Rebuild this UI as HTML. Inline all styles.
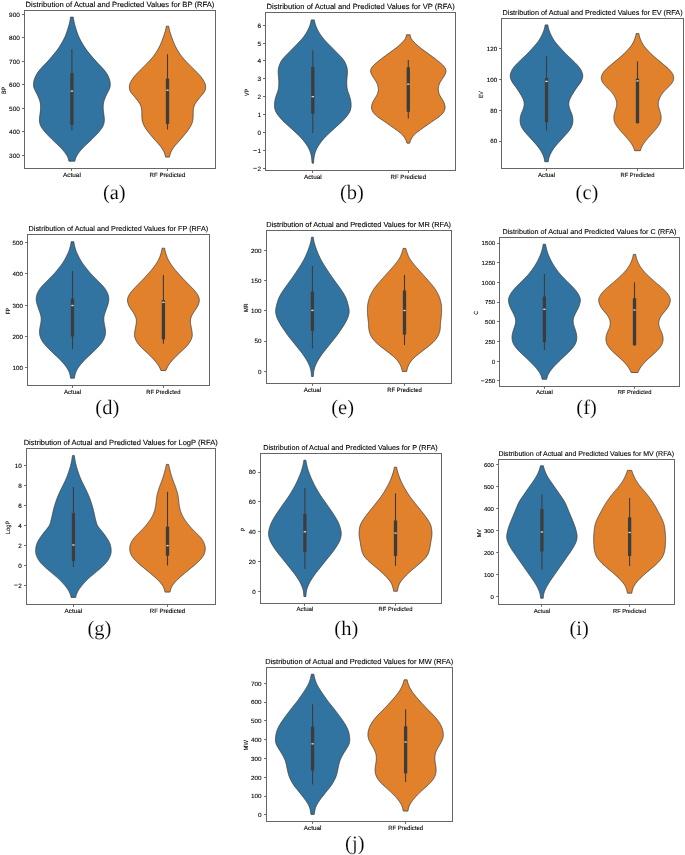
<!DOCTYPE html><html><head><meta charset="utf-8"><style>html,body{margin:0;padding:0;background:#fff;}svg{display:block;will-change:transform;text-rendering:geometricPrecision;}</style></head><body>
<svg width="685" height="855" viewBox="0 0 685 855">
<rect width="685" height="855" fill="#fff"/>
<g font-family="Liberation Sans, sans-serif" fill="#000000" stroke="none" transform="translate(0,0)"><path d="M73.21,17.1 73.34,18.1 73.5,19.1 73.68,20.1 73.88,21.1 74.09,22.1 74.32,23.1 74.57,24.1 74.83,25.1 75.11,26.1 75.4,27.1 75.71,28.1 76.02,29.1 76.35,30.1 76.68,31.1 77.01,32.1 77.35,33.1 77.7,34.1 78.07,35.1 78.48,36.1 78.93,37.1 79.41,38.1 79.91,39.1 80.43,40.1 80.97,41.1 81.53,42.1 82.1,43.1 82.68,44.1 83.28,45.1 83.9,46.1 84.54,47.1 85.2,48.1 85.89,49.1 86.63,50.1 87.4,51.1 88.19,52.1 89,53.1 89.82,54.1 90.65,55.1 91.49,56.1 92.34,57.1 93.2,58.1 94.07,59.1 94.95,60.1 95.85,61.1 96.76,62.1 97.7,63.1 98.66,64.1 99.63,65.1 100.59,66.1 101.53,67.1 102.45,68.1 103.35,69.1 104.21,70.1 105.01,71.1 105.74,72.1 106.41,73.1 107.03,74.1 107.6,75.1 108.11,76.1 108.57,77.1 108.98,78.1 109.33,79.1 109.63,80.1 109.86,81.1 110.04,82.1 110.17,83.1 110.24,84.1 110.23,85.1 110.15,86.1 109.99,87.1 109.72,88.1 109.34,89.1 108.88,90.1 108.38,91.1 107.87,92.1 107.36,93.1 106.85,94.1 106.36,95.1 105.89,96.1 105.44,97.1 105.02,98.1 104.63,99.1 104.27,100.1 103.96,101.1 103.71,102.1 103.51,103.1 103.36,104.1 103.24,105.1 103.18,106.1 103.16,107.1 103.17,108.1 103.21,109.1 103.28,110.1 103.38,111.1 103.51,112.1 103.64,113.1 103.77,114.1 103.91,115.1 104.04,116.1 104.16,117.1 104.26,118.1 104.31,119.1 104.31,120.1 104.26,121.1 104.17,122.1 104,123.1 103.74,124.1 103.39,125.1 102.98,126.1 102.48,127.1 101.87,128.1 101.16,129.1 100.38,130.1 99.56,131.1 98.71,132.1 97.83,133.1 96.92,134.1 95.99,135.1 95.05,136.1 94.08,137.1 93.09,138.1 92.09,139.1 91.07,140.1 90.02,141.1 88.95,142.1 87.88,143.1 86.8,144.1 85.75,145.1 84.72,146.1 83.71,147.1 82.73,148.1 81.79,149.1 80.91,150.1 80.07,151.1 79.28,152.1 78.53,153.1 77.84,154.1 77.2,155.1 76.62,156.1 76.1,157.1 75.66,158.1 75.32,159.1 75.09,160.1 74.94,161.1 74.8,161.2 L69,161.2 68.86,161.1 68.71,160.1 68.48,159.1 68.14,158.1 67.7,157.1 67.18,156.1 66.6,155.1 65.96,154.1 65.27,153.1 64.52,152.1 63.73,151.1 62.89,150.1 62.01,149.1 61.07,148.1 60.09,147.1 59.08,146.1 58.05,145.1 57,144.1 55.92,143.1 54.85,142.1 53.78,141.1 52.73,140.1 51.71,139.1 50.71,138.1 49.72,137.1 48.75,136.1 47.81,135.1 46.88,134.1 45.97,133.1 45.09,132.1 44.24,131.1 43.42,130.1 42.64,129.1 41.93,128.1 41.32,127.1 40.82,126.1 40.41,125.1 40.06,124.1 39.8,123.1 39.63,122.1 39.54,121.1 39.49,120.1 39.49,119.1 39.54,118.1 39.64,117.1 39.76,116.1 39.89,115.1 40.03,114.1 40.16,113.1 40.29,112.1 40.42,111.1 40.52,110.1 40.59,109.1 40.63,108.1 40.64,107.1 40.62,106.1 40.56,105.1 40.44,104.1 40.29,103.1 40.09,102.1 39.84,101.1 39.53,100.1 39.17,99.1 38.78,98.1 38.36,97.1 37.91,96.1 37.44,95.1 36.95,94.1 36.44,93.1 35.93,92.1 35.42,91.1 34.92,90.1 34.46,89.1 34.08,88.1 33.81,87.1 33.65,86.1 33.57,85.1 33.56,84.1 33.63,83.1 33.76,82.1 33.94,81.1 34.17,80.1 34.47,79.1 34.82,78.1 35.23,77.1 35.69,76.1 36.2,75.1 36.77,74.1 37.39,73.1 38.06,72.1 38.79,71.1 39.59,70.1 40.45,69.1 41.35,68.1 42.27,67.1 43.21,66.1 44.17,65.1 45.14,64.1 46.1,63.1 47.04,62.1 47.95,61.1 48.85,60.1 49.73,59.1 50.6,58.1 51.46,57.1 52.31,56.1 53.15,55.1 53.98,54.1 54.8,53.1 55.61,52.1 56.4,51.1 57.17,50.1 57.91,49.1 58.6,48.1 59.26,47.1 59.9,46.1 60.52,45.1 61.12,44.1 61.7,43.1 62.27,42.1 62.83,41.1 63.37,40.1 63.89,39.1 64.39,38.1 64.87,37.1 65.32,36.1 65.73,35.1 66.1,34.1 66.45,33.1 66.79,32.1 67.12,31.1 67.45,30.1 67.78,29.1 68.09,28.1 68.4,27.1 68.69,26.1 68.97,25.1 69.23,24.1 69.48,23.1 69.71,22.1 69.92,21.1 70.12,20.1 70.3,19.1 70.46,18.1 70.59,17.1 Z" fill="#3274a1" stroke="#3c3c3c" stroke-width="0.75" stroke-linejoin="round"/><line x1="71.9" y1="48.9" x2="71.9" y2="130.5" stroke="#3c3c3c" stroke-width="1.1"/><rect x="70.25" y="73.2" width="3.3" height="51.6" fill="#3c3c3c"/><rect x="70.7" y="90.45" width="2.4" height="1.3" fill="#d9d9d9"/><path d="M168.64,26.2 168.78,27.2 168.98,28.2 169.2,29.2 169.46,30.2 169.73,31.2 170.03,32.2 170.35,33.2 170.68,34.2 171.01,35.2 171.34,36.2 171.68,37.2 172.03,38.2 172.38,39.2 172.75,40.2 173.14,41.2 173.54,42.2 173.96,43.2 174.4,44.2 174.87,45.2 175.36,46.2 175.87,47.2 176.4,48.2 176.96,49.2 177.53,50.2 178.13,51.2 178.75,52.2 179.4,53.2 180.07,54.2 180.78,55.2 181.52,56.2 182.3,57.2 183.14,58.2 184.02,59.2 184.93,60.2 185.86,61.2 186.81,62.2 187.77,63.2 188.74,64.2 189.73,65.2 190.73,66.2 191.74,67.2 192.75,68.2 193.77,69.2 194.79,70.2 195.79,71.2 196.79,72.2 197.77,73.2 198.71,74.2 199.61,75.2 200.45,76.2 201.24,77.2 202,78.2 202.7,79.2 203.34,80.2 203.92,81.2 204.44,82.2 204.88,83.2 205.22,84.2 205.45,85.2 205.58,86.2 205.62,87.2 205.56,88.2 205.4,89.2 205.14,90.2 204.73,91.2 204.15,92.2 203.4,93.2 202.57,94.2 201.71,95.2 200.88,96.2 200.08,97.2 199.28,98.2 198.48,99.2 197.69,100.2 196.91,101.2 196.18,102.2 195.52,103.2 194.97,104.2 194.5,105.2 194.1,106.2 193.78,107.2 193.54,108.2 193.38,109.2 193.27,110.2 193.2,111.2 193.16,112.2 193.15,113.2 193.15,114.2 193.16,115.2 193.15,116.2 193.11,117.2 193.06,118.2 192.96,119.2 192.82,120.2 192.61,121.2 192.32,122.2 191.97,123.2 191.57,124.2 191.12,125.2 190.6,126.2 190.04,127.2 189.43,128.2 188.78,129.2 188.08,130.2 187.33,131.2 186.55,132.2 185.75,133.2 184.95,134.2 184.14,135.2 183.32,136.2 182.49,137.2 181.64,138.2 180.77,139.2 179.88,140.2 178.97,141.2 178.07,142.2 177.18,143.2 176.29,144.2 175.42,145.2 174.59,146.2 173.82,147.2 173.12,148.2 172.47,149.2 171.88,150.2 171.35,151.2 170.88,152.2 170.47,153.2 170.13,154.2 169.85,155.2 169.64,156.2 169.51,157.1 L165.49,157.1 165.36,156.2 165.15,155.2 164.87,154.2 164.53,153.2 164.12,152.2 163.65,151.2 163.12,150.2 162.53,149.2 161.88,148.2 161.18,147.2 160.41,146.2 159.58,145.2 158.71,144.2 157.82,143.2 156.93,142.2 156.03,141.2 155.12,140.2 154.23,139.2 153.36,138.2 152.51,137.2 151.68,136.2 150.86,135.2 150.05,134.2 149.25,133.2 148.45,132.2 147.67,131.2 146.92,130.2 146.22,129.2 145.57,128.2 144.96,127.2 144.4,126.2 143.88,125.2 143.43,124.2 143.03,123.2 142.68,122.2 142.39,121.2 142.18,120.2 142.04,119.2 141.94,118.2 141.89,117.2 141.85,116.2 141.84,115.2 141.85,114.2 141.85,113.2 141.84,112.2 141.8,111.2 141.73,110.2 141.62,109.2 141.46,108.2 141.22,107.2 140.9,106.2 140.5,105.2 140.03,104.2 139.48,103.2 138.82,102.2 138.09,101.2 137.31,100.2 136.52,99.2 135.72,98.2 134.92,97.2 134.12,96.2 133.29,95.2 132.43,94.2 131.6,93.2 130.85,92.2 130.27,91.2 129.86,90.2 129.6,89.2 129.44,88.2 129.38,87.2 129.42,86.2 129.55,85.2 129.78,84.2 130.12,83.2 130.56,82.2 131.08,81.2 131.66,80.2 132.3,79.2 133,78.2 133.76,77.2 134.55,76.2 135.39,75.2 136.29,74.2 137.23,73.2 138.21,72.2 139.21,71.2 140.21,70.2 141.23,69.2 142.25,68.2 143.26,67.2 144.27,66.2 145.27,65.2 146.26,64.2 147.23,63.2 148.19,62.2 149.14,61.2 150.07,60.2 150.98,59.2 151.86,58.2 152.7,57.2 153.48,56.2 154.22,55.2 154.93,54.2 155.6,53.2 156.25,52.2 156.87,51.2 157.47,50.2 158.04,49.2 158.6,48.2 159.13,47.2 159.64,46.2 160.13,45.2 160.6,44.2 161.04,43.2 161.46,42.2 161.86,41.2 162.25,40.2 162.62,39.2 162.97,38.2 163.32,37.2 163.66,36.2 163.99,35.2 164.32,34.2 164.65,33.2 164.97,32.2 165.27,31.2 165.54,30.2 165.8,29.2 166.02,28.2 166.22,27.2 166.36,26.2 Z" fill="#e1812c" stroke="#3c3c3c" stroke-width="0.75" stroke-linejoin="round"/><line x1="167.5" y1="54.3" x2="167.5" y2="129.5" stroke="#3c3c3c" stroke-width="1.1"/><rect x="165.85" y="78.6" width="3.3" height="45.2" fill="#3c3c3c"/><rect x="166.3" y="89.55" width="2.4" height="1.3" fill="#d9d9d9"/><rect x="24.5" y="10.5" width="191" height="158" fill="none" stroke="#666666" stroke-width="1"/><line x1="22.05" y1="14.5" x2="24.5" y2="14.5" stroke="#666666" stroke-width="1"/><text x="9.14" y="16.72" font-size="6.27" textLength="10.87" lengthAdjust="spacingAndGlyphs" stroke="#000" stroke-width="0.1">900</text><line x1="22.05" y1="37.5" x2="24.5" y2="37.5" stroke="#666666" stroke-width="1"/><text x="9.14" y="40.19" font-size="6.27" textLength="10.87" lengthAdjust="spacingAndGlyphs" stroke="#000" stroke-width="0.1">800</text><line x1="22.05" y1="61.5" x2="24.5" y2="61.5" stroke="#666666" stroke-width="1"/><text x="9.14" y="63.66" font-size="6.27" textLength="10.87" lengthAdjust="spacingAndGlyphs" stroke="#000" stroke-width="0.1">700</text><line x1="22.05" y1="84.5" x2="24.5" y2="84.5" stroke="#666666" stroke-width="1"/><text x="9.14" y="87.12" font-size="6.27" textLength="10.87" lengthAdjust="spacingAndGlyphs" stroke="#000" stroke-width="0.1">600</text><line x1="22.05" y1="108.5" x2="24.5" y2="108.5" stroke="#666666" stroke-width="1"/><text x="9.14" y="110.59" font-size="6.27" textLength="10.87" lengthAdjust="spacingAndGlyphs" stroke="#000" stroke-width="0.1">500</text><line x1="22.05" y1="131.5" x2="24.5" y2="131.5" stroke="#666666" stroke-width="1"/><text x="9.14" y="134.06" font-size="6.27" textLength="10.87" lengthAdjust="spacingAndGlyphs" stroke="#000" stroke-width="0.1">400</text><line x1="22.05" y1="155.5" x2="24.5" y2="155.5" stroke="#666666" stroke-width="1"/><text x="9.14" y="157.52" font-size="6.27" textLength="10.87" lengthAdjust="spacingAndGlyphs" stroke="#000" stroke-width="0.1">300</text><line x1="71.5" y1="168.5" x2="71.5" y2="170.95" stroke="#666666" stroke-width="1"/><text x="62.98" y="177" font-size="6.27" textLength="17.84" lengthAdjust="spacingAndGlyphs" stroke="#000" stroke-width="0.1">Actual</text><line x1="167.5" y1="168.5" x2="167.5" y2="170.95" stroke="#666666" stroke-width="1"/><text x="149.61" y="177" font-size="6.27" textLength="35.78" lengthAdjust="spacingAndGlyphs" stroke="#000" stroke-width="0.1">RF Predicted</text><text x="25.6" y="6.81" font-size="7.52" textLength="188.8" lengthAdjust="spacingAndGlyphs" stroke="#000" stroke-width="0.1">Distribution of Actual and Predicted Values for BP (RFA)</text><text transform="translate(6,90.4) rotate(-90)" x="-3.67" y="0" font-size="6.27" textLength="7.34" lengthAdjust="spacingAndGlyphs" stroke="#000" stroke-width="0.1">BP</text><text x="114.3" y="199.1" text-anchor="middle" font-family="Liberation Serif, serif" font-size="20.5" fill="#000" stroke="#fff" stroke-width="0.15">(a)</text></g>
<g font-family="Liberation Sans, sans-serif" fill="#000000" stroke="none" transform="translate(0,0)"><path d="M314.35,19.9 314.5,20.9 314.71,21.9 314.95,22.9 315.22,23.9 315.53,24.9 315.88,25.9 316.27,26.9 316.69,27.9 317.15,28.9 317.64,29.9 318.17,30.9 318.73,31.9 319.32,32.9 319.94,33.9 320.61,34.9 321.31,35.9 322.04,36.9 322.82,37.9 323.66,38.9 324.53,39.9 325.44,40.9 326.37,41.9 327.33,42.9 328.31,43.9 329.3,44.9 330.29,45.9 331.28,46.9 332.27,47.9 333.25,48.9 334.23,49.9 335.22,50.9 336.21,51.9 337.2,52.9 338.19,53.9 339.17,54.9 340.12,55.9 341.06,56.9 341.95,57.9 342.8,58.9 343.56,59.9 344.22,60.9 344.79,61.9 345.3,62.9 345.75,63.9 346.14,64.9 346.48,65.9 346.77,66.9 347.01,67.9 347.2,68.9 347.32,69.9 347.39,70.9 347.42,71.9 347.41,72.9 347.36,73.9 347.27,74.9 347.17,75.9 347.07,76.9 346.98,77.9 346.9,78.9 346.84,79.9 346.78,80.9 346.75,81.9 346.74,82.9 346.76,83.9 346.79,84.9 346.84,85.9 346.93,86.9 347.05,87.9 347.21,88.9 347.43,89.9 347.71,90.9 348.05,91.9 348.42,92.9 348.78,93.9 349.13,94.9 349.47,95.9 349.78,96.9 350.07,97.9 350.33,98.9 350.54,99.9 350.72,100.9 350.87,101.9 350.98,102.9 351.05,103.9 351.08,104.9 351.07,105.9 351.01,106.9 350.88,107.9 350.67,108.9 350.41,109.9 350.08,110.9 349.64,111.9 349.1,112.9 348.46,113.9 347.76,114.9 347,115.9 346.2,116.9 345.36,117.9 344.47,118.9 343.55,119.9 342.58,120.9 341.55,121.9 340.49,122.9 339.4,123.9 338.31,124.9 337.2,125.9 336.09,126.9 334.98,127.9 333.88,128.9 332.77,129.9 331.68,130.9 330.59,131.9 329.51,132.9 328.44,133.9 327.39,134.9 326.37,135.9 325.37,136.9 324.41,137.9 323.52,138.9 322.67,139.9 321.87,140.9 321.09,141.9 320.35,142.9 319.63,143.9 318.95,144.9 318.29,145.9 317.68,146.9 317.12,147.9 316.61,148.9 316.14,149.9 315.72,150.9 315.34,151.9 315.02,152.9 314.74,153.9 314.49,154.9 314.28,155.9 314.11,156.9 313.97,157.9 313.86,158.9 313.76,159.9 313.67,160.9 313.6,161.9 313.55,162.9 313.5,163.2 L312.1,163.2 312.05,162.9 312,161.9 311.93,160.9 311.84,159.9 311.74,158.9 311.63,157.9 311.49,156.9 311.32,155.9 311.11,154.9 310.86,153.9 310.58,152.9 310.26,151.9 309.88,150.9 309.46,149.9 308.99,148.9 308.48,147.9 307.92,146.9 307.31,145.9 306.65,144.9 305.97,143.9 305.25,142.9 304.51,141.9 303.73,140.9 302.93,139.9 302.08,138.9 301.19,137.9 300.23,136.9 299.23,135.9 298.21,134.9 297.16,133.9 296.09,132.9 295.01,131.9 293.92,130.9 292.83,129.9 291.72,128.9 290.62,127.9 289.51,126.9 288.4,125.9 287.29,124.9 286.2,123.9 285.11,122.9 284.05,121.9 283.02,120.9 282.05,119.9 281.13,118.9 280.24,117.9 279.4,116.9 278.6,115.9 277.84,114.9 277.14,113.9 276.5,112.9 275.96,111.9 275.52,110.9 275.19,109.9 274.93,108.9 274.72,107.9 274.59,106.9 274.53,105.9 274.52,104.9 274.55,103.9 274.62,102.9 274.73,101.9 274.88,100.9 275.06,99.9 275.27,98.9 275.53,97.9 275.82,96.9 276.13,95.9 276.47,94.9 276.82,93.9 277.18,92.9 277.55,91.9 277.89,90.9 278.17,89.9 278.39,88.9 278.55,87.9 278.67,86.9 278.76,85.9 278.81,84.9 278.84,83.9 278.86,82.9 278.85,81.9 278.82,80.9 278.76,79.9 278.7,78.9 278.62,77.9 278.53,76.9 278.43,75.9 278.33,74.9 278.24,73.9 278.19,72.9 278.18,71.9 278.21,70.9 278.28,69.9 278.4,68.9 278.59,67.9 278.83,66.9 279.12,65.9 279.46,64.9 279.85,63.9 280.3,62.9 280.81,61.9 281.38,60.9 282.04,59.9 282.8,58.9 283.65,57.9 284.54,56.9 285.48,55.9 286.43,54.9 287.41,53.9 288.4,52.9 289.39,51.9 290.38,50.9 291.37,49.9 292.35,48.9 293.33,47.9 294.32,46.9 295.31,45.9 296.3,44.9 297.29,43.9 298.27,42.9 299.23,41.9 300.16,40.9 301.07,39.9 301.94,38.9 302.78,37.9 303.56,36.9 304.29,35.9 304.99,34.9 305.66,33.9 306.28,32.9 306.87,31.9 307.43,30.9 307.96,29.9 308.45,28.9 308.91,27.9 309.33,26.9 309.72,25.9 310.07,24.9 310.38,23.9 310.65,22.9 310.89,21.9 311.1,20.9 311.25,19.9 Z" fill="#3274a1" stroke="#3c3c3c" stroke-width="0.75" stroke-linejoin="round"/><line x1="312.8" y1="50.2" x2="312.8" y2="133" stroke="#3c3c3c" stroke-width="1.1"/><rect x="311.15" y="66.9" width="3.3" height="46.8" fill="#3c3c3c"/><rect x="311.6" y="95.95" width="2.4" height="1.3" fill="#d9d9d9"/><path d="M410.16,34.8 410.29,35.8 410.52,36.8 410.87,37.8 411.37,38.8 412.03,39.8 412.82,40.8 413.72,41.8 414.7,42.8 415.74,43.8 416.82,44.8 417.94,45.8 419.1,46.8 420.33,47.8 421.63,48.8 422.97,49.8 424.34,50.8 425.73,51.8 427.12,52.8 428.51,53.8 429.9,54.8 431.27,55.8 432.63,56.8 433.95,57.8 435.24,58.8 436.5,59.8 437.75,60.8 438.99,61.8 440.21,62.8 441.4,63.8 442.49,64.8 443.44,65.8 444.25,66.8 444.93,67.8 445.46,68.8 445.81,69.8 445.97,70.8 445.91,71.8 445.67,72.8 445.3,73.8 444.84,74.8 444.29,75.8 443.68,76.8 443.03,77.8 442.36,78.8 441.71,79.8 441.08,80.8 440.47,81.8 439.91,82.8 439.43,83.8 439.05,84.8 438.76,85.8 438.53,86.8 438.36,87.8 438.26,88.8 438.27,89.8 438.38,90.8 438.56,91.8 438.8,92.8 439.1,93.8 439.52,94.8 440.06,95.8 440.68,96.8 441.32,97.8 441.94,98.8 442.53,99.8 443.07,100.8 443.58,101.8 444.03,102.8 444.41,103.8 444.7,104.8 444.92,105.8 445.05,106.8 445.07,107.8 444.94,108.8 444.66,109.8 444.27,110.8 443.76,111.8 443.08,112.8 442.25,113.8 441.29,114.8 440.22,115.8 439,116.8 437.64,117.8 436.18,118.8 434.68,119.8 433.18,120.8 431.72,121.8 430.29,122.8 428.88,123.8 427.47,124.8 426.06,125.8 424.65,126.8 423.23,127.8 421.83,128.8 420.44,129.8 419.08,130.8 417.76,131.8 416.49,132.8 415.31,133.8 414.27,134.8 413.39,135.8 412.62,136.8 411.94,137.8 411.35,138.8 410.85,139.8 410.43,140.8 410.1,141.8 409.86,142.8 409.6,143.2 L407,143.2 406.74,142.8 406.5,141.8 406.17,140.8 405.75,139.8 405.25,138.8 404.66,137.8 403.98,136.8 403.21,135.8 402.33,134.8 401.29,133.8 400.11,132.8 398.84,131.8 397.52,130.8 396.16,129.8 394.77,128.8 393.37,127.8 391.95,126.8 390.54,125.8 389.13,124.8 387.72,123.8 386.31,122.8 384.88,121.8 383.42,120.8 381.92,119.8 380.42,118.8 378.96,117.8 377.6,116.8 376.38,115.8 375.31,114.8 374.35,113.8 373.52,112.8 372.84,111.8 372.33,110.8 371.94,109.8 371.66,108.8 371.53,107.8 371.55,106.8 371.68,105.8 371.9,104.8 372.19,103.8 372.57,102.8 373.02,101.8 373.53,100.8 374.07,99.8 374.66,98.8 375.28,97.8 375.92,96.8 376.54,95.8 377.08,94.8 377.5,93.8 377.8,92.8 378.04,91.8 378.22,90.8 378.33,89.8 378.34,88.8 378.24,87.8 378.07,86.8 377.84,85.8 377.55,84.8 377.17,83.8 376.69,82.8 376.13,81.8 375.52,80.8 374.89,79.8 374.24,78.8 373.57,77.8 372.92,76.8 372.31,75.8 371.76,74.8 371.3,73.8 370.93,72.8 370.69,71.8 370.63,70.8 370.79,69.8 371.14,68.8 371.67,67.8 372.35,66.8 373.16,65.8 374.11,64.8 375.2,63.8 376.39,62.8 377.61,61.8 378.85,60.8 380.1,59.8 381.36,58.8 382.65,57.8 383.97,56.8 385.33,55.8 386.7,54.8 388.09,53.8 389.48,52.8 390.87,51.8 392.26,50.8 393.63,49.8 394.97,48.8 396.27,47.8 397.5,46.8 398.66,45.8 399.78,44.8 400.86,43.8 401.9,42.8 402.88,41.8 403.78,40.8 404.57,39.8 405.23,38.8 405.73,37.8 406.08,36.8 406.31,35.8 406.44,34.8 Z" fill="#e1812c" stroke="#3c3c3c" stroke-width="0.75" stroke-linejoin="round"/><line x1="408.3" y1="60.1" x2="408.3" y2="118.6" stroke="#3c3c3c" stroke-width="1.1"/><rect x="406.65" y="67.3" width="3.3" height="44.5" fill="#3c3c3c"/><rect x="407.1" y="83.55" width="2.4" height="1.3" fill="#d9d9d9"/><rect x="265.5" y="12.5" width="190" height="158" fill="none" stroke="#666666" stroke-width="1"/><line x1="263.06" y1="25.5" x2="265.5" y2="25.5" stroke="#666666" stroke-width="1"/><text x="257.41" y="27.72" font-size="6.24" textLength="3.61" lengthAdjust="spacingAndGlyphs" stroke="#000" stroke-width="0.1">6</text><line x1="263.06" y1="43.5" x2="265.5" y2="43.5" stroke="#666666" stroke-width="1"/><text x="257.41" y="45.59" font-size="6.24" textLength="3.61" lengthAdjust="spacingAndGlyphs" stroke="#000" stroke-width="0.1">5</text><line x1="263.06" y1="60.5" x2="265.5" y2="60.5" stroke="#666666" stroke-width="1"/><text x="257.41" y="63.47" font-size="6.24" textLength="3.61" lengthAdjust="spacingAndGlyphs" stroke="#000" stroke-width="0.1">4</text><line x1="263.06" y1="78.5" x2="265.5" y2="78.5" stroke="#666666" stroke-width="1"/><text x="257.41" y="81.34" font-size="6.24" textLength="3.61" lengthAdjust="spacingAndGlyphs" stroke="#000" stroke-width="0.1">3</text><line x1="263.06" y1="96.5" x2="265.5" y2="96.5" stroke="#666666" stroke-width="1"/><text x="257.41" y="99.22" font-size="6.24" textLength="3.61" lengthAdjust="spacingAndGlyphs" stroke="#000" stroke-width="0.1">2</text><line x1="263.06" y1="114.5" x2="265.5" y2="114.5" stroke="#666666" stroke-width="1"/><text x="257.41" y="117.09" font-size="6.24" textLength="3.61" lengthAdjust="spacingAndGlyphs" stroke="#000" stroke-width="0.1">1</text><line x1="263.06" y1="132.5" x2="265.5" y2="132.5" stroke="#666666" stroke-width="1"/><text x="257.41" y="134.97" font-size="6.24" textLength="3.61" lengthAdjust="spacingAndGlyphs" stroke="#000" stroke-width="0.1">0</text><line x1="263.06" y1="150.5" x2="265.5" y2="150.5" stroke="#666666" stroke-width="1"/><text x="257.41" y="152.84" font-size="6.24" textLength="3.61" lengthAdjust="spacingAndGlyphs" stroke="#000" stroke-width="0.1">1</text><rect x="253.26" y="150.02" width="3.55" height="0.75" fill="#222"/><line x1="263.06" y1="168.5" x2="265.5" y2="168.5" stroke="#666666" stroke-width="1"/><text x="257.41" y="170.72" font-size="6.24" textLength="3.61" lengthAdjust="spacingAndGlyphs" stroke="#000" stroke-width="0.1">2</text><rect x="253.26" y="167.9" width="3.55" height="0.75" fill="#222"/><line x1="312.5" y1="170.5" x2="312.5" y2="172.94" stroke="#666666" stroke-width="1"/><text x="303.91" y="178.5" font-size="6.24" textLength="17.78" lengthAdjust="spacingAndGlyphs" stroke="#000" stroke-width="0.1">Actual</text><line x1="408.5" y1="170.5" x2="408.5" y2="172.94" stroke="#666666" stroke-width="1"/><text x="390.47" y="178.5" font-size="6.24" textLength="35.66" lengthAdjust="spacingAndGlyphs" stroke="#000" stroke-width="0.1">RF Predicted</text><text x="266.52" y="9.02" font-size="7.49" textLength="188.15" lengthAdjust="spacingAndGlyphs" stroke="#000" stroke-width="0.1">Distribution of Actual and Predicted Values for VP (RFA)</text><text transform="translate(249.3,92.4) rotate(-90)" x="-3.65" y="0" font-size="6.24" textLength="7.31" lengthAdjust="spacingAndGlyphs" stroke="#000" stroke-width="0.1">VP</text><text x="351.9" y="199.1" text-anchor="middle" font-family="Liberation Serif, serif" font-size="20.5" fill="#000" stroke="#fff" stroke-width="0.15">(b)</text></g>
<g font-family="Liberation Sans, sans-serif" fill="#000000" stroke="none" transform="translate(0,0)"><path d="M547.83,24.9 547.97,25.9 548.17,26.9 548.39,27.9 548.65,28.9 548.94,29.9 549.29,30.9 549.67,31.9 550.09,32.9 550.53,33.9 550.99,34.9 551.48,35.9 552,36.9 552.55,37.9 553.14,38.9 553.78,39.9 554.46,40.9 555.17,41.9 555.93,42.9 556.76,43.9 557.63,44.9 558.53,45.9 559.43,46.9 560.32,47.9 561.22,48.9 562.11,49.9 563.02,50.9 563.96,51.9 564.92,52.9 565.91,53.9 566.92,54.9 567.95,55.9 569,56.9 570.07,57.9 571.15,58.9 572.21,59.9 573.26,60.9 574.28,61.9 575.29,62.9 576.26,63.9 577.19,64.9 578.07,65.9 578.9,66.9 579.67,67.9 580.37,68.9 580.96,69.9 581.45,70.9 581.87,71.9 582.22,72.9 582.49,73.9 582.68,74.9 582.75,75.9 582.71,76.9 582.52,77.9 582.21,78.9 581.82,79.9 581.37,80.9 580.86,81.9 580.26,82.9 579.56,83.9 578.81,84.9 578.04,85.9 577.29,86.9 576.57,87.9 575.88,88.9 575.2,89.9 574.53,90.9 573.89,91.9 573.25,92.9 572.63,93.9 572.03,94.9 571.45,95.9 570.91,96.9 570.41,97.9 569.94,98.9 569.53,99.9 569.2,100.9 568.98,101.9 568.85,102.9 568.79,103.9 568.81,104.9 568.94,105.9 569.16,106.9 569.44,107.9 569.77,108.9 570.15,109.9 570.56,110.9 570.98,111.9 571.4,112.9 571.77,113.9 572.08,114.9 572.33,115.9 572.55,116.9 572.71,117.9 572.82,118.9 572.87,119.9 572.87,120.9 572.82,121.9 572.69,122.9 572.49,123.9 572.22,124.9 571.88,125.9 571.46,126.9 570.94,127.9 570.33,128.9 569.66,129.9 568.93,130.9 568.14,131.9 567.3,132.9 566.41,133.9 565.51,134.9 564.6,135.9 563.69,136.9 562.79,137.9 561.88,138.9 560.97,139.9 560.06,140.9 559.16,141.9 558.26,142.9 557.37,143.9 556.51,144.9 555.69,145.9 554.89,146.9 554.12,147.9 553.39,148.9 552.72,149.9 552.1,150.9 551.51,151.9 550.96,152.9 550.46,153.9 550.01,154.9 549.6,155.9 549.23,156.9 548.93,157.9 548.69,158.9 548.5,159.9 548.37,160.9 548.28,161.7 L544.72,161.7 544.63,160.9 544.5,159.9 544.31,158.9 544.07,157.9 543.77,156.9 543.4,155.9 542.99,154.9 542.54,153.9 542.04,152.9 541.49,151.9 540.9,150.9 540.28,149.9 539.61,148.9 538.88,147.9 538.11,146.9 537.31,145.9 536.49,144.9 535.63,143.9 534.74,142.9 533.84,141.9 532.94,140.9 532.03,139.9 531.12,138.9 530.21,137.9 529.31,136.9 528.4,135.9 527.49,134.9 526.59,133.9 525.7,132.9 524.86,131.9 524.07,130.9 523.34,129.9 522.67,128.9 522.06,127.9 521.54,126.9 521.12,125.9 520.78,124.9 520.51,123.9 520.31,122.9 520.18,121.9 520.13,120.9 520.13,119.9 520.18,118.9 520.29,117.9 520.45,116.9 520.67,115.9 520.92,114.9 521.23,113.9 521.6,112.9 522.02,111.9 522.44,110.9 522.85,109.9 523.23,108.9 523.56,107.9 523.84,106.9 524.06,105.9 524.19,104.9 524.21,103.9 524.15,102.9 524.02,101.9 523.8,100.9 523.47,99.9 523.06,98.9 522.59,97.9 522.09,96.9 521.55,95.9 520.97,94.9 520.37,93.9 519.75,92.9 519.11,91.9 518.47,90.9 517.8,89.9 517.12,88.9 516.43,87.9 515.71,86.9 514.96,85.9 514.19,84.9 513.44,83.9 512.74,82.9 512.14,81.9 511.63,80.9 511.18,79.9 510.79,78.9 510.48,77.9 510.29,76.9 510.25,75.9 510.32,74.9 510.51,73.9 510.78,72.9 511.13,71.9 511.55,70.9 512.04,69.9 512.63,68.9 513.33,67.9 514.1,66.9 514.93,65.9 515.81,64.9 516.74,63.9 517.71,62.9 518.72,61.9 519.74,60.9 520.79,59.9 521.85,58.9 522.93,57.9 524,56.9 525.05,55.9 526.08,54.9 527.09,53.9 528.08,52.9 529.04,51.9 529.98,50.9 530.89,49.9 531.78,48.9 532.68,47.9 533.57,46.9 534.47,45.9 535.37,44.9 536.24,43.9 537.07,42.9 537.83,41.9 538.54,40.9 539.22,39.9 539.86,38.9 540.45,37.9 541,36.9 541.52,35.9 542.01,34.9 542.47,33.9 542.91,32.9 543.33,31.9 543.71,30.9 544.06,29.9 544.35,28.9 544.61,27.9 544.83,26.9 545.03,25.9 545.17,24.9 Z" fill="#3274a1" stroke="#3c3c3c" stroke-width="0.75" stroke-linejoin="round"/><line x1="546.5" y1="56.1" x2="546.5" y2="130.6" stroke="#3c3c3c" stroke-width="1.1"/><rect x="544.85" y="78" width="3.3" height="44.3" fill="#3c3c3c"/><rect x="545.3" y="80.75" width="2.4" height="1.3" fill="#d9d9d9"/><path d="M638.86,33.6 639.02,34.6 639.25,35.6 639.52,36.6 639.82,37.6 640.17,38.6 640.55,39.6 640.97,40.6 641.42,41.6 641.92,42.6 642.48,43.6 643.08,44.6 643.73,45.6 644.46,46.6 645.26,47.6 646.13,48.6 647.03,49.6 647.96,50.6 648.91,51.6 649.87,52.6 650.86,53.6 651.89,54.6 652.97,55.6 654.1,56.6 655.28,57.6 656.48,58.6 657.68,59.6 658.88,60.6 660.09,61.6 661.29,62.6 662.49,63.6 663.68,64.6 664.87,65.6 666.03,66.6 667.17,67.6 668.24,68.6 669.24,69.6 670.17,70.6 671.03,71.6 671.79,72.6 672.41,73.6 672.91,74.6 673.29,75.6 673.56,76.6 673.68,77.6 673.66,78.6 673.51,79.6 673.24,80.6 672.84,81.6 672.27,82.6 671.56,83.6 670.76,84.6 669.88,85.6 668.92,86.6 667.89,87.6 666.82,88.6 665.78,89.6 664.8,90.6 663.91,91.6 663.08,92.6 662.31,93.6 661.6,94.6 660.97,95.6 660.41,96.6 659.9,97.6 659.45,98.6 659.07,99.6 658.77,100.6 658.53,101.6 658.35,102.6 658.26,103.6 658.28,104.6 658.4,105.6 658.59,106.6 658.82,107.6 659.1,108.6 659.41,109.6 659.73,110.6 660.05,111.6 660.34,112.6 660.59,113.6 660.81,114.6 660.98,115.6 661.1,116.6 661.14,117.6 661.11,118.6 661.01,119.6 660.83,120.6 660.56,121.6 660.18,122.6 659.72,123.6 659.19,124.6 658.59,125.6 657.91,126.6 657.16,127.6 656.37,128.6 655.55,129.6 654.7,130.6 653.82,131.6 652.93,132.6 652.02,133.6 651.12,134.6 650.23,135.6 649.34,136.6 648.46,137.6 647.6,138.6 646.75,139.6 645.93,140.6 645.13,141.6 644.37,142.6 643.68,143.6 643.04,144.6 642.46,145.6 641.92,146.6 641.45,147.6 641.05,148.6 640.74,149.6 640.51,150.6 640.3,150.7 L634.7,150.7 634.49,150.6 634.26,149.6 633.95,148.6 633.55,147.6 633.08,146.6 632.54,145.6 631.96,144.6 631.32,143.6 630.63,142.6 629.87,141.6 629.07,140.6 628.25,139.6 627.4,138.6 626.54,137.6 625.66,136.6 624.77,135.6 623.88,134.6 622.98,133.6 622.07,132.6 621.18,131.6 620.3,130.6 619.45,129.6 618.63,128.6 617.84,127.6 617.09,126.6 616.41,125.6 615.81,124.6 615.28,123.6 614.82,122.6 614.44,121.6 614.17,120.6 613.99,119.6 613.89,118.6 613.86,117.6 613.9,116.6 614.02,115.6 614.19,114.6 614.41,113.6 614.66,112.6 614.95,111.6 615.27,110.6 615.59,109.6 615.9,108.6 616.18,107.6 616.41,106.6 616.6,105.6 616.72,104.6 616.74,103.6 616.65,102.6 616.47,101.6 616.23,100.6 615.93,99.6 615.55,98.6 615.1,97.6 614.59,96.6 614.03,95.6 613.4,94.6 612.69,93.6 611.92,92.6 611.09,91.6 610.2,90.6 609.22,89.6 608.18,88.6 607.11,87.6 606.08,86.6 605.12,85.6 604.24,84.6 603.44,83.6 602.73,82.6 602.16,81.6 601.76,80.6 601.49,79.6 601.34,78.6 601.32,77.6 601.44,76.6 601.71,75.6 602.09,74.6 602.59,73.6 603.21,72.6 603.97,71.6 604.83,70.6 605.76,69.6 606.76,68.6 607.83,67.6 608.97,66.6 610.13,65.6 611.32,64.6 612.51,63.6 613.71,62.6 614.91,61.6 616.12,60.6 617.32,59.6 618.52,58.6 619.72,57.6 620.9,56.6 622.03,55.6 623.11,54.6 624.14,53.6 625.13,52.6 626.09,51.6 627.04,50.6 627.97,49.6 628.87,48.6 629.74,47.6 630.54,46.6 631.27,45.6 631.92,44.6 632.52,43.6 633.08,42.6 633.58,41.6 634.03,40.6 634.45,39.6 634.83,38.6 635.18,37.6 635.48,36.6 635.75,35.6 635.98,34.6 636.14,33.6 Z" fill="#e1812c" stroke="#3c3c3c" stroke-width="0.75" stroke-linejoin="round"/><line x1="637.5" y1="61.3" x2="637.5" y2="123.5" stroke="#3c3c3c" stroke-width="1.1"/><rect x="635.85" y="78.6" width="3.3" height="44.6" fill="#3c3c3c"/><rect x="636.3" y="80.25" width="2.4" height="1.3" fill="#d9d9d9"/><rect x="501.5" y="18.5" width="182" height="150" fill="none" stroke="#666666" stroke-width="1"/><line x1="499.17" y1="48.5" x2="501.5" y2="48.5" stroke="#666666" stroke-width="1"/><text x="486.85" y="51.02" font-size="5.97" textLength="10.35" lengthAdjust="spacingAndGlyphs" stroke="#000" stroke-width="0.1">120</text><line x1="499.17" y1="79.5" x2="501.5" y2="79.5" stroke="#666666" stroke-width="1"/><text x="486.85" y="81.82" font-size="5.97" textLength="10.35" lengthAdjust="spacingAndGlyphs" stroke="#000" stroke-width="0.1">100</text><line x1="499.17" y1="110.5" x2="501.5" y2="110.5" stroke="#666666" stroke-width="1"/><text x="490.3" y="112.62" font-size="5.97" textLength="6.9" lengthAdjust="spacingAndGlyphs" stroke="#000" stroke-width="0.1">80</text><line x1="499.17" y1="141.5" x2="501.5" y2="141.5" stroke="#666666" stroke-width="1"/><text x="490.3" y="143.42" font-size="5.97" textLength="6.9" lengthAdjust="spacingAndGlyphs" stroke="#000" stroke-width="0.1">60</text><line x1="546.5" y1="168.5" x2="546.5" y2="170.83" stroke="#666666" stroke-width="1"/><text x="538" y="176.5" font-size="5.97" textLength="16.99" lengthAdjust="spacingAndGlyphs" stroke="#000" stroke-width="0.1">Actual</text><line x1="637.5" y1="168.5" x2="637.5" y2="170.83" stroke="#666666" stroke-width="1"/><text x="620.46" y="176.5" font-size="5.97" textLength="34.07" lengthAdjust="spacingAndGlyphs" stroke="#000" stroke-width="0.1">RF Predicted</text><text x="502.62" y="15.18" font-size="7.16" textLength="179.96" lengthAdjust="spacingAndGlyphs" stroke="#000" stroke-width="0.1">Distribution of Actual and Predicted Values for EV (RFA)</text><text transform="translate(483,94.7) rotate(-90)" x="-3.57" y="0" font-size="5.97" textLength="7.14" lengthAdjust="spacingAndGlyphs" stroke="#000" stroke-width="0.1">EV</text><text x="587" y="199.1" text-anchor="middle" font-family="Liberation Serif, serif" font-size="20.5" fill="#000" stroke="#fff" stroke-width="0.15">(c)</text></g>
<g font-family="Liberation Sans, sans-serif" fill="#000000" stroke="none" transform="translate(0,0)"><path d="M73.83,241.7 73.96,242.7 74.15,243.7 74.35,244.7 74.58,245.7 74.82,246.7 75.09,247.7 75.37,248.7 75.68,249.7 76.02,250.7 76.4,251.7 76.82,252.7 77.27,253.7 77.74,254.7 78.23,255.7 78.72,256.7 79.23,257.7 79.76,258.7 80.32,259.7 80.91,260.7 81.53,261.7 82.18,262.7 82.86,263.7 83.58,264.7 84.33,265.7 85.11,266.7 85.91,267.7 86.7,268.7 87.5,269.7 88.3,270.7 89.12,271.7 89.97,272.7 90.87,273.7 91.82,274.7 92.8,275.7 93.79,276.7 94.78,277.7 95.77,278.7 96.75,279.7 97.74,280.7 98.73,281.7 99.73,282.7 100.74,283.7 101.73,284.7 102.67,285.7 103.53,286.7 104.31,287.7 105.03,288.7 105.7,289.7 106.31,290.7 106.85,291.7 107.33,292.7 107.75,293.7 108.12,294.7 108.39,295.7 108.59,296.7 108.73,297.7 108.8,298.7 108.8,299.7 108.71,300.7 108.56,301.7 108.36,302.7 108.13,303.7 107.84,304.7 107.52,305.7 107.18,306.7 106.83,307.7 106.47,308.7 106.11,309.7 105.74,310.7 105.39,311.7 105.05,312.7 104.73,313.7 104.44,314.7 104.18,315.7 103.99,316.7 103.87,317.7 103.83,318.7 103.83,319.7 103.87,320.7 103.97,321.7 104.12,322.7 104.3,323.7 104.49,324.7 104.69,325.7 104.88,326.7 105.07,327.7 105.23,328.7 105.36,329.7 105.44,330.7 105.48,331.7 105.46,332.7 105.4,333.7 105.26,334.7 105.04,335.7 104.76,336.7 104.43,337.7 104.02,338.7 103.54,339.7 102.99,340.7 102.38,341.7 101.7,342.7 100.94,343.7 100.11,344.7 99.22,345.7 98.3,346.7 97.35,347.7 96.38,348.7 95.39,349.7 94.38,350.7 93.34,351.7 92.27,352.7 91.18,353.7 90.09,354.7 89,355.7 87.94,356.7 86.92,357.7 85.91,358.7 84.93,359.7 83.97,360.7 83.05,361.7 82.15,362.7 81.28,363.7 80.45,364.7 79.66,365.7 78.93,366.7 78.23,367.7 77.58,368.7 77,369.7 76.49,370.7 76.03,371.7 75.63,372.7 75.29,373.7 75.03,374.7 74.82,375.7 74.66,376.7 74.54,377.7 74.4,378.2 L70.6,378.2 70.46,377.7 70.34,376.7 70.18,375.7 69.97,374.7 69.71,373.7 69.37,372.7 68.97,371.7 68.51,370.7 68,369.7 67.42,368.7 66.77,367.7 66.07,366.7 65.34,365.7 64.55,364.7 63.72,363.7 62.85,362.7 61.95,361.7 61.03,360.7 60.07,359.7 59.09,358.7 58.08,357.7 57.06,356.7 56,355.7 54.91,354.7 53.82,353.7 52.73,352.7 51.66,351.7 50.62,350.7 49.61,349.7 48.62,348.7 47.65,347.7 46.7,346.7 45.78,345.7 44.89,344.7 44.06,343.7 43.3,342.7 42.62,341.7 42.01,340.7 41.46,339.7 40.98,338.7 40.57,337.7 40.24,336.7 39.96,335.7 39.74,334.7 39.6,333.7 39.54,332.7 39.52,331.7 39.56,330.7 39.64,329.7 39.77,328.7 39.93,327.7 40.12,326.7 40.31,325.7 40.51,324.7 40.7,323.7 40.88,322.7 41.03,321.7 41.13,320.7 41.17,319.7 41.17,318.7 41.13,317.7 41.01,316.7 40.82,315.7 40.56,314.7 40.27,313.7 39.95,312.7 39.61,311.7 39.26,310.7 38.89,309.7 38.53,308.7 38.17,307.7 37.82,306.7 37.48,305.7 37.16,304.7 36.87,303.7 36.64,302.7 36.44,301.7 36.29,300.7 36.2,299.7 36.2,298.7 36.27,297.7 36.41,296.7 36.61,295.7 36.88,294.7 37.25,293.7 37.67,292.7 38.15,291.7 38.69,290.7 39.3,289.7 39.97,288.7 40.69,287.7 41.47,286.7 42.33,285.7 43.27,284.7 44.26,283.7 45.27,282.7 46.27,281.7 47.26,280.7 48.25,279.7 49.23,278.7 50.22,277.7 51.21,276.7 52.2,275.7 53.18,274.7 54.13,273.7 55.03,272.7 55.88,271.7 56.7,270.7 57.5,269.7 58.3,268.7 59.09,267.7 59.89,266.7 60.67,265.7 61.42,264.7 62.14,263.7 62.82,262.7 63.47,261.7 64.09,260.7 64.68,259.7 65.24,258.7 65.77,257.7 66.28,256.7 66.77,255.7 67.26,254.7 67.73,253.7 68.18,252.7 68.6,251.7 68.98,250.7 69.32,249.7 69.63,248.7 69.91,247.7 70.18,246.7 70.42,245.7 70.65,244.7 70.85,243.7 71.04,242.7 71.17,241.7 Z" fill="#3274a1" stroke="#3c3c3c" stroke-width="0.75" stroke-linejoin="round"/><line x1="72.5" y1="270.9" x2="72.5" y2="349.2" stroke="#3c3c3c" stroke-width="1.1"/><rect x="70.85" y="298.4" width="3.3" height="38.1" fill="#3c3c3c"/><rect x="71.3" y="304.85" width="2.4" height="1.3" fill="#d9d9d9"/><path d="M164.64,248.2 164.79,249.2 164.99,250.2 165.23,251.2 165.48,252.2 165.76,253.2 166.06,254.2 166.38,255.2 166.72,256.2 167.1,257.2 167.53,258.2 167.99,259.2 168.49,260.2 169.03,261.2 169.62,262.2 170.24,263.2 170.9,264.2 171.58,265.2 172.3,266.2 173.06,267.2 173.84,268.2 174.64,269.2 175.47,270.2 176.32,271.2 177.19,272.2 178.07,273.2 178.97,274.2 179.86,275.2 180.77,276.2 181.68,277.2 182.6,278.2 183.55,279.2 184.52,280.2 185.5,281.2 186.5,282.2 187.49,283.2 188.48,284.2 189.46,285.2 190.43,286.2 191.4,287.2 192.36,288.2 193.3,289.2 194.22,290.2 195.09,291.2 195.9,292.2 196.61,293.2 197.25,294.2 197.82,295.2 198.32,296.2 198.73,297.2 199.04,298.2 199.23,299.2 199.3,300.2 199.23,301.2 199.05,302.2 198.81,303.2 198.52,304.2 198.14,305.2 197.65,306.2 197.06,307.2 196.42,308.2 195.76,309.2 195.08,310.2 194.4,311.2 193.72,312.2 193.07,313.2 192.47,314.2 191.95,315.2 191.5,316.2 191.11,317.2 190.79,318.2 190.57,319.2 190.46,320.2 190.43,321.2 190.45,322.2 190.52,323.2 190.66,324.2 190.83,325.2 191.03,326.2 191.22,327.2 191.42,328.2 191.6,329.2 191.78,330.2 191.94,331.2 192.07,332.2 192.17,333.2 192.23,334.2 192.24,335.2 192.16,336.2 191.96,337.2 191.67,338.2 191.3,339.2 190.86,340.2 190.34,341.2 189.73,342.2 189.06,343.2 188.33,344.2 187.52,345.2 186.63,346.2 185.68,347.2 184.68,348.2 183.65,349.2 182.59,350.2 181.5,351.2 180.4,352.2 179.31,353.2 178.25,354.2 177.22,355.2 176.21,356.2 175.22,357.2 174.25,358.2 173.31,359.2 172.4,360.2 171.51,361.2 170.67,362.2 169.89,363.2 169.18,364.2 168.51,365.2 167.89,366.2 167.33,367.2 166.85,368.2 166.44,369.2 166.13,370.2 165.8,370.5 L161,370.5 160.67,370.2 160.36,369.2 159.95,368.2 159.47,367.2 158.91,366.2 158.29,365.2 157.62,364.2 156.91,363.2 156.13,362.2 155.29,361.2 154.4,360.2 153.49,359.2 152.55,358.2 151.58,357.2 150.59,356.2 149.58,355.2 148.55,354.2 147.49,353.2 146.4,352.2 145.3,351.2 144.21,350.2 143.15,349.2 142.12,348.2 141.12,347.2 140.17,346.2 139.28,345.2 138.47,344.2 137.74,343.2 137.07,342.2 136.46,341.2 135.94,340.2 135.5,339.2 135.13,338.2 134.84,337.2 134.64,336.2 134.56,335.2 134.57,334.2 134.63,333.2 134.73,332.2 134.86,331.2 135.02,330.2 135.2,329.2 135.38,328.2 135.58,327.2 135.77,326.2 135.97,325.2 136.14,324.2 136.28,323.2 136.35,322.2 136.37,321.2 136.34,320.2 136.23,319.2 136.01,318.2 135.69,317.2 135.3,316.2 134.85,315.2 134.33,314.2 133.73,313.2 133.08,312.2 132.4,311.2 131.72,310.2 131.04,309.2 130.38,308.2 129.74,307.2 129.15,306.2 128.66,305.2 128.28,304.2 127.99,303.2 127.75,302.2 127.57,301.2 127.5,300.2 127.57,299.2 127.76,298.2 128.07,297.2 128.48,296.2 128.98,295.2 129.55,294.2 130.19,293.2 130.9,292.2 131.71,291.2 132.58,290.2 133.5,289.2 134.44,288.2 135.4,287.2 136.37,286.2 137.34,285.2 138.32,284.2 139.31,283.2 140.3,282.2 141.3,281.2 142.28,280.2 143.25,279.2 144.2,278.2 145.12,277.2 146.03,276.2 146.94,275.2 147.83,274.2 148.73,273.2 149.61,272.2 150.48,271.2 151.33,270.2 152.16,269.2 152.96,268.2 153.74,267.2 154.5,266.2 155.22,265.2 155.9,264.2 156.56,263.2 157.18,262.2 157.77,261.2 158.31,260.2 158.81,259.2 159.27,258.2 159.7,257.2 160.08,256.2 160.42,255.2 160.74,254.2 161.04,253.2 161.32,252.2 161.57,251.2 161.81,250.2 162.01,249.2 162.16,248.2 Z" fill="#e1812c" stroke="#3c3c3c" stroke-width="0.75" stroke-linejoin="round"/><line x1="163.4" y1="275.1" x2="163.4" y2="343.8" stroke="#3c3c3c" stroke-width="1.1"/><rect x="161.75" y="300.1" width="3.3" height="39.3" fill="#3c3c3c"/><rect x="162.2" y="301.65" width="2.4" height="1.3" fill="#d9d9d9"/><rect x="27.5" y="234.5" width="182" height="151" fill="none" stroke="#666666" stroke-width="1"/><line x1="25.16" y1="242.5" x2="27.5" y2="242.5" stroke="#666666" stroke-width="1"/><text x="12.61" y="245.03" font-size="5.98" textLength="10.38" lengthAdjust="spacingAndGlyphs" stroke="#000" stroke-width="0.1">500</text><line x1="25.16" y1="273.5" x2="27.5" y2="273.5" stroke="#666666" stroke-width="1"/><text x="12.61" y="276.28" font-size="5.98" textLength="10.38" lengthAdjust="spacingAndGlyphs" stroke="#000" stroke-width="0.1">400</text><line x1="25.16" y1="305.5" x2="27.5" y2="305.5" stroke="#666666" stroke-width="1"/><text x="12.61" y="307.53" font-size="5.98" textLength="10.38" lengthAdjust="spacingAndGlyphs" stroke="#000" stroke-width="0.1">300</text><line x1="25.16" y1="336.5" x2="27.5" y2="336.5" stroke="#666666" stroke-width="1"/><text x="12.61" y="338.78" font-size="5.98" textLength="10.38" lengthAdjust="spacingAndGlyphs" stroke="#000" stroke-width="0.1">200</text><line x1="25.16" y1="367.5" x2="27.5" y2="367.5" stroke="#666666" stroke-width="1"/><text x="12.61" y="370.03" font-size="5.98" textLength="10.38" lengthAdjust="spacingAndGlyphs" stroke="#000" stroke-width="0.1">100</text><line x1="72.5" y1="385.5" x2="72.5" y2="387.84" stroke="#666666" stroke-width="1"/><text x="63.98" y="393.5" font-size="5.98" textLength="17.04" lengthAdjust="spacingAndGlyphs" stroke="#000" stroke-width="0.1">Actual</text><line x1="163.5" y1="385.5" x2="163.5" y2="387.84" stroke="#666666" stroke-width="1"/><text x="146.32" y="393.5" font-size="5.98" textLength="34.16" lengthAdjust="spacingAndGlyphs" stroke="#000" stroke-width="0.1">RF Predicted</text><text x="28.63" y="231.17" font-size="7.18" textLength="179.54" lengthAdjust="spacingAndGlyphs" stroke="#000" stroke-width="0.1">Distribution of Actual and Predicted Values for FP (RFA)</text><text transform="translate(9.6,311.1) rotate(-90)" x="-3.2" y="0" font-size="5.98" textLength="6.41" lengthAdjust="spacingAndGlyphs" stroke="#000" stroke-width="0.1">FP</text><text x="107.3" y="414.1" text-anchor="middle" font-family="Liberation Serif, serif" font-size="20.5" fill="#000" stroke="#fff" stroke-width="0.15">(d)</text></g>
<g font-family="Liberation Sans, sans-serif" fill="#000000" stroke="none" transform="translate(0,0)"><path d="M313.3,237.2 313.4,238.2 313.54,239.2 313.71,240.2 313.9,241.2 314.13,242.2 314.4,243.2 314.69,244.2 315,245.2 315.33,246.2 315.66,247.2 316,248.2 316.36,249.2 316.72,250.2 317.11,251.2 317.5,252.2 317.91,253.2 318.34,254.2 318.77,255.2 319.23,256.2 319.71,257.2 320.19,258.2 320.7,259.2 321.23,260.2 321.79,261.2 322.36,262.2 322.94,263.2 323.54,264.2 324.16,265.2 324.79,266.2 325.43,267.2 326.08,268.2 326.73,269.2 327.39,270.2 328.05,271.2 328.71,272.2 329.38,273.2 330.06,274.2 330.75,275.2 331.44,276.2 332.13,277.2 332.84,278.2 333.56,279.2 334.28,280.2 335,281.2 335.73,282.2 336.45,283.2 337.18,284.2 337.91,285.2 338.64,286.2 339.36,287.2 340.08,288.2 340.79,289.2 341.48,290.2 342.15,291.2 342.79,292.2 343.41,293.2 344,294.2 344.56,295.2 345.08,296.2 345.58,297.2 346.03,298.2 346.43,299.2 346.78,300.2 347.1,301.2 347.39,302.2 347.68,303.2 347.95,304.2 348.2,305.2 348.45,306.2 348.67,307.2 348.86,308.2 349.01,309.2 349.11,310.2 349.15,311.2 349.11,312.2 348.99,313.2 348.8,314.2 348.56,315.2 348.27,316.2 347.95,317.2 347.57,318.2 347.14,319.2 346.66,320.2 346.15,321.2 345.62,322.2 345.06,323.2 344.49,324.2 343.89,325.2 343.28,326.2 342.64,327.2 341.97,328.2 341.28,329.2 340.58,330.2 339.88,331.2 339.19,332.2 338.5,333.2 337.81,334.2 337.09,335.2 336.34,336.2 335.56,337.2 334.75,338.2 333.94,339.2 333.13,340.2 332.33,341.2 331.53,342.2 330.73,343.2 329.94,344.2 329.14,345.2 328.35,346.2 327.55,347.2 326.75,348.2 325.95,349.2 325.14,350.2 324.33,351.2 323.54,352.2 322.77,353.2 322.03,354.2 321.32,355.2 320.63,356.2 319.97,357.2 319.32,358.2 318.7,359.2 318.1,360.2 317.52,361.2 316.98,362.2 316.48,363.2 316.01,364.2 315.58,365.2 315.17,366.2 314.81,367.2 314.49,368.2 314.2,369.2 313.96,370.2 313.77,371.2 313.63,372.2 313.54,373.2 313.47,374.2 313.4,375.2 313.35,376.2 313.3,376.5 L311.5,376.5 311.45,376.2 311.4,375.2 311.33,374.2 311.26,373.2 311.17,372.2 311.03,371.2 310.84,370.2 310.6,369.2 310.31,368.2 309.99,367.2 309.63,366.2 309.22,365.2 308.79,364.2 308.32,363.2 307.82,362.2 307.28,361.2 306.7,360.2 306.1,359.2 305.48,358.2 304.83,357.2 304.17,356.2 303.48,355.2 302.77,354.2 302.03,353.2 301.26,352.2 300.47,351.2 299.66,350.2 298.85,349.2 298.05,348.2 297.25,347.2 296.45,346.2 295.66,345.2 294.86,344.2 294.07,343.2 293.27,342.2 292.47,341.2 291.67,340.2 290.86,339.2 290.05,338.2 289.24,337.2 288.46,336.2 287.71,335.2 286.99,334.2 286.3,333.2 285.61,332.2 284.92,331.2 284.22,330.2 283.52,329.2 282.83,328.2 282.16,327.2 281.52,326.2 280.91,325.2 280.31,324.2 279.74,323.2 279.18,322.2 278.65,321.2 278.14,320.2 277.66,319.2 277.23,318.2 276.85,317.2 276.53,316.2 276.24,315.2 276,314.2 275.81,313.2 275.69,312.2 275.65,311.2 275.69,310.2 275.79,309.2 275.94,308.2 276.13,307.2 276.35,306.2 276.6,305.2 276.85,304.2 277.12,303.2 277.41,302.2 277.7,301.2 278.02,300.2 278.37,299.2 278.77,298.2 279.22,297.2 279.72,296.2 280.24,295.2 280.8,294.2 281.39,293.2 282.01,292.2 282.65,291.2 283.32,290.2 284.01,289.2 284.72,288.2 285.44,287.2 286.16,286.2 286.89,285.2 287.62,284.2 288.35,283.2 289.07,282.2 289.8,281.2 290.52,280.2 291.24,279.2 291.96,278.2 292.67,277.2 293.36,276.2 294.05,275.2 294.74,274.2 295.42,273.2 296.09,272.2 296.75,271.2 297.41,270.2 298.07,269.2 298.72,268.2 299.37,267.2 300.01,266.2 300.64,265.2 301.26,264.2 301.86,263.2 302.44,262.2 303.01,261.2 303.57,260.2 304.1,259.2 304.61,258.2 305.09,257.2 305.57,256.2 306.03,255.2 306.46,254.2 306.89,253.2 307.3,252.2 307.69,251.2 308.08,250.2 308.44,249.2 308.8,248.2 309.14,247.2 309.47,246.2 309.8,245.2 310.11,244.2 310.4,243.2 310.67,242.2 310.9,241.2 311.09,240.2 311.26,239.2 311.4,238.2 311.5,237.2 Z" fill="#3274a1" stroke="#3c3c3c" stroke-width="0.75" stroke-linejoin="round"/><line x1="312.4" y1="265.9" x2="312.4" y2="348.4" stroke="#3c3c3c" stroke-width="1.1"/><rect x="310.75" y="291.6" width="3.3" height="39.5" fill="#3c3c3c"/><rect x="311.2" y="309.75" width="2.4" height="1.3" fill="#d9d9d9"/><path d="M405.89,248.4 406.09,249.4 406.36,250.4 406.67,251.4 407,252.4 407.36,253.4 407.73,254.4 408.13,255.4 408.57,256.4 409.06,257.4 409.63,258.4 410.25,259.4 410.92,260.4 411.63,261.4 412.38,262.4 413.17,263.4 413.98,264.4 414.82,265.4 415.67,266.4 416.54,267.4 417.42,268.4 418.31,269.4 419.2,270.4 420.1,271.4 421.01,272.4 421.91,273.4 422.82,274.4 423.71,275.4 424.6,276.4 425.49,277.4 426.38,278.4 427.27,279.4 428.15,280.4 429.03,281.4 429.91,282.4 430.77,283.4 431.62,284.4 432.44,285.4 433.25,286.4 434.01,287.4 434.72,288.4 435.38,289.4 436,290.4 436.59,291.4 437.15,292.4 437.68,293.4 438.19,294.4 438.66,295.4 439.1,296.4 439.48,297.4 439.81,298.4 440.11,299.4 440.39,300.4 440.64,301.4 440.87,302.4 441.08,303.4 441.25,304.4 441.39,305.4 441.48,306.4 441.53,307.4 441.56,308.4 441.57,309.4 441.57,310.4 441.56,311.4 441.54,312.4 441.5,313.4 441.44,314.4 441.36,315.4 441.27,316.4 441.16,317.4 441.04,318.4 440.92,319.4 440.79,320.4 440.66,321.4 440.55,322.4 440.47,323.4 440.42,324.4 440.4,325.4 440.37,326.4 440.31,327.4 440.22,328.4 440.08,329.4 439.91,330.4 439.69,331.4 439.42,332.4 439.09,333.4 438.7,334.4 438.27,335.4 437.75,336.4 437.16,337.4 436.49,338.4 435.75,339.4 434.93,340.4 434.01,341.4 433,342.4 431.93,343.4 430.8,344.4 429.62,345.4 428.38,346.4 427.11,347.4 425.82,348.4 424.53,349.4 423.23,350.4 421.94,351.4 420.65,352.4 419.37,353.4 418.11,354.4 416.87,355.4 415.66,356.4 414.51,357.4 413.46,358.4 412.53,359.4 411.69,360.4 410.91,361.4 410.21,362.4 409.58,363.4 409.03,364.4 408.53,365.4 408.09,366.4 407.71,367.4 407.39,368.4 407.12,369.4 406.91,370.4 406.75,371.4 L402.25,371.4 402.09,370.4 401.88,369.4 401.61,368.4 401.29,367.4 400.91,366.4 400.47,365.4 399.97,364.4 399.42,363.4 398.79,362.4 398.09,361.4 397.31,360.4 396.47,359.4 395.54,358.4 394.49,357.4 393.34,356.4 392.13,355.4 390.89,354.4 389.63,353.4 388.35,352.4 387.06,351.4 385.77,350.4 384.47,349.4 383.18,348.4 381.89,347.4 380.62,346.4 379.38,345.4 378.2,344.4 377.07,343.4 376,342.4 374.99,341.4 374.07,340.4 373.25,339.4 372.51,338.4 371.84,337.4 371.25,336.4 370.73,335.4 370.3,334.4 369.91,333.4 369.58,332.4 369.31,331.4 369.09,330.4 368.92,329.4 368.78,328.4 368.69,327.4 368.63,326.4 368.6,325.4 368.58,324.4 368.53,323.4 368.45,322.4 368.34,321.4 368.21,320.4 368.08,319.4 367.96,318.4 367.84,317.4 367.73,316.4 367.64,315.4 367.56,314.4 367.5,313.4 367.46,312.4 367.44,311.4 367.43,310.4 367.43,309.4 367.44,308.4 367.47,307.4 367.52,306.4 367.61,305.4 367.75,304.4 367.92,303.4 368.13,302.4 368.36,301.4 368.61,300.4 368.89,299.4 369.19,298.4 369.52,297.4 369.9,296.4 370.34,295.4 370.81,294.4 371.32,293.4 371.85,292.4 372.41,291.4 373,290.4 373.62,289.4 374.28,288.4 374.99,287.4 375.75,286.4 376.56,285.4 377.38,284.4 378.23,283.4 379.09,282.4 379.97,281.4 380.85,280.4 381.73,279.4 382.62,278.4 383.51,277.4 384.4,276.4 385.29,275.4 386.18,274.4 387.09,273.4 387.99,272.4 388.9,271.4 389.8,270.4 390.69,269.4 391.58,268.4 392.46,267.4 393.33,266.4 394.18,265.4 395.02,264.4 395.83,263.4 396.62,262.4 397.37,261.4 398.08,260.4 398.75,259.4 399.37,258.4 399.94,257.4 400.43,256.4 400.87,255.4 401.27,254.4 401.64,253.4 402,252.4 402.33,251.4 402.64,250.4 402.91,249.4 403.11,248.4 Z" fill="#e1812c" stroke="#3c3c3c" stroke-width="0.75" stroke-linejoin="round"/><line x1="404.5" y1="274.9" x2="404.5" y2="345.1" stroke="#3c3c3c" stroke-width="1.1"/><rect x="402.85" y="290.5" width="3.3" height="44.1" fill="#3c3c3c"/><rect x="403.3" y="309.85" width="2.4" height="1.3" fill="#d9d9d9"/><rect x="266.5" y="230.5" width="185" height="153" fill="none" stroke="#666666" stroke-width="1"/><line x1="264.13" y1="250.5" x2="266.5" y2="250.5" stroke="#666666" stroke-width="1"/><text x="251" y="252.86" font-size="6.07" textLength="10.54" lengthAdjust="spacingAndGlyphs" stroke="#000" stroke-width="0.1">200</text><line x1="264.13" y1="280.5" x2="266.5" y2="280.5" stroke="#666666" stroke-width="1"/><text x="251" y="283.06" font-size="6.07" textLength="10.54" lengthAdjust="spacingAndGlyphs" stroke="#000" stroke-width="0.1">150</text><line x1="264.13" y1="310.5" x2="266.5" y2="310.5" stroke="#666666" stroke-width="1"/><text x="251" y="313.26" font-size="6.07" textLength="10.54" lengthAdjust="spacingAndGlyphs" stroke="#000" stroke-width="0.1">100</text><line x1="264.13" y1="341.5" x2="266.5" y2="341.5" stroke="#666666" stroke-width="1"/><text x="254.51" y="343.46" font-size="6.07" textLength="7.03" lengthAdjust="spacingAndGlyphs" stroke="#000" stroke-width="0.1">50</text><line x1="264.13" y1="371.5" x2="266.5" y2="371.5" stroke="#666666" stroke-width="1"/><text x="258.02" y="373.66" font-size="6.07" textLength="3.51" lengthAdjust="spacingAndGlyphs" stroke="#000" stroke-width="0.1">0</text><line x1="312.5" y1="383.5" x2="312.5" y2="385.87" stroke="#666666" stroke-width="1"/><text x="303.75" y="392" font-size="6.07" textLength="17.3" lengthAdjust="spacingAndGlyphs" stroke="#000" stroke-width="0.1">Actual</text><line x1="404.5" y1="383.5" x2="404.5" y2="385.87" stroke="#666666" stroke-width="1"/><text x="387.16" y="392" font-size="6.07" textLength="34.69" lengthAdjust="spacingAndGlyphs" stroke="#000" stroke-width="0.1">RF Predicted</text><text x="266.3" y="226.92" font-size="7.29" textLength="184.8" lengthAdjust="spacingAndGlyphs" stroke="#000" stroke-width="0.1">Distribution of Actual and Predicted Values for MR (RFA)</text><text transform="translate(248.4,307.8) rotate(-90)" x="-4.3" y="0" font-size="6.07" textLength="8.6" lengthAdjust="spacingAndGlyphs" stroke="#000" stroke-width="0.1">MR</text><text x="342.6" y="414.1" text-anchor="middle" font-family="Liberation Serif, serif" font-size="20.5" fill="#000" stroke="#fff" stroke-width="0.15">(e)</text></g>
<g font-family="Liberation Sans, sans-serif" fill="#000000" stroke="none" transform="translate(0,0)"><path d="M545.62,244.2 545.74,245.2 545.91,246.2 546.1,247.2 546.32,248.2 546.56,249.2 546.83,250.2 547.12,251.2 547.43,252.2 547.77,253.2 548.15,254.2 548.55,255.2 548.97,256.2 549.41,257.2 549.86,258.2 550.34,259.2 550.83,260.2 551.34,261.2 551.88,262.2 552.45,263.2 553.04,264.2 553.66,265.2 554.29,266.2 554.95,267.2 555.63,268.2 556.33,269.2 557.05,270.2 557.8,271.2 558.58,272.2 559.38,273.2 560.22,274.2 561.09,275.2 562.01,276.2 562.96,277.2 563.94,278.2 564.92,279.2 565.91,280.2 566.9,281.2 567.9,282.2 568.91,283.2 569.92,284.2 570.93,285.2 571.94,286.2 572.93,287.2 573.86,288.2 574.74,289.2 575.57,290.2 576.35,291.2 577.08,292.2 577.74,293.2 578.34,294.2 578.88,295.2 579.36,296.2 579.76,297.2 580.06,298.2 580.25,299.2 580.33,300.2 580.29,301.2 580.14,302.2 579.92,303.2 579.66,304.2 579.36,305.2 579,306.2 578.58,307.2 578.12,308.2 577.63,309.2 577.12,310.2 576.6,311.2 576.08,312.2 575.56,313.2 575.07,314.2 574.61,315.2 574.18,316.2 573.8,317.2 573.49,318.2 573.27,319.2 573.16,320.2 573.13,321.2 573.17,322.2 573.29,323.2 573.5,324.2 573.77,325.2 574.08,326.2 574.41,327.2 574.74,328.2 575.08,329.2 575.41,330.2 575.72,331.2 576,332.2 576.24,333.2 576.45,334.2 576.62,335.2 576.74,336.2 576.78,337.2 576.76,338.2 576.69,339.2 576.55,340.2 576.32,341.2 576.01,342.2 575.62,343.2 575.16,344.2 574.6,345.2 573.94,346.2 573.2,347.2 572.4,348.2 571.54,349.2 570.64,350.2 569.68,351.2 568.68,352.2 567.66,353.2 566.61,354.2 565.53,355.2 564.43,356.2 563.34,357.2 562.27,358.2 561.23,359.2 560.21,360.2 559.2,361.2 558.2,362.2 557.2,363.2 556.2,364.2 555.22,365.2 554.26,366.2 553.34,367.2 552.48,368.2 551.67,369.2 550.9,370.2 550.17,371.2 549.51,372.2 548.91,373.2 548.35,374.2 547.86,375.2 547.45,376.2 547.14,377.2 546.91,378.2 546.75,379.2 546.6,379.3 L542.2,379.3 542.05,379.2 541.89,378.2 541.66,377.2 541.35,376.2 540.94,375.2 540.45,374.2 539.89,373.2 539.29,372.2 538.63,371.2 537.9,370.2 537.13,369.2 536.32,368.2 535.46,367.2 534.54,366.2 533.58,365.2 532.6,364.2 531.6,363.2 530.6,362.2 529.6,361.2 528.59,360.2 527.57,359.2 526.53,358.2 525.46,357.2 524.37,356.2 523.27,355.2 522.19,354.2 521.14,353.2 520.12,352.2 519.12,351.2 518.16,350.2 517.26,349.2 516.4,348.2 515.6,347.2 514.86,346.2 514.2,345.2 513.64,344.2 513.18,343.2 512.79,342.2 512.48,341.2 512.25,340.2 512.11,339.2 512.04,338.2 512.02,337.2 512.06,336.2 512.18,335.2 512.35,334.2 512.56,333.2 512.8,332.2 513.08,331.2 513.39,330.2 513.72,329.2 514.06,328.2 514.39,327.2 514.72,326.2 515.03,325.2 515.3,324.2 515.51,323.2 515.63,322.2 515.67,321.2 515.64,320.2 515.53,319.2 515.31,318.2 515,317.2 514.62,316.2 514.19,315.2 513.73,314.2 513.24,313.2 512.72,312.2 512.2,311.2 511.68,310.2 511.17,309.2 510.68,308.2 510.22,307.2 509.8,306.2 509.44,305.2 509.14,304.2 508.88,303.2 508.66,302.2 508.51,301.2 508.47,300.2 508.55,299.2 508.74,298.2 509.04,297.2 509.44,296.2 509.92,295.2 510.46,294.2 511.06,293.2 511.72,292.2 512.45,291.2 513.23,290.2 514.06,289.2 514.94,288.2 515.87,287.2 516.86,286.2 517.87,285.2 518.88,284.2 519.89,283.2 520.9,282.2 521.9,281.2 522.89,280.2 523.88,279.2 524.86,278.2 525.84,277.2 526.79,276.2 527.71,275.2 528.58,274.2 529.42,273.2 530.22,272.2 531,271.2 531.75,270.2 532.47,269.2 533.17,268.2 533.85,267.2 534.51,266.2 535.14,265.2 535.76,264.2 536.35,263.2 536.92,262.2 537.46,261.2 537.97,260.2 538.46,259.2 538.94,258.2 539.39,257.2 539.83,256.2 540.25,255.2 540.65,254.2 541.03,253.2 541.37,252.2 541.68,251.2 541.97,250.2 542.24,249.2 542.48,248.2 542.7,247.2 542.89,246.2 543.06,245.2 543.18,244.2 Z" fill="#3274a1" stroke="#3c3c3c" stroke-width="0.75" stroke-linejoin="round"/><line x1="544.4" y1="274" x2="544.4" y2="349.9" stroke="#3c3c3c" stroke-width="1.1"/><rect x="542.75" y="296.6" width="3.3" height="45.4" fill="#3c3c3c"/><rect x="543.2" y="308.65" width="2.4" height="1.3" fill="#d9d9d9"/><path d="M635.65,254.4 635.81,255.4 636.02,256.4 636.27,257.4 636.56,258.4 636.88,259.4 637.24,260.4 637.62,261.4 638.05,262.4 638.52,263.4 639.04,264.4 639.6,265.4 640.21,266.4 640.86,267.4 641.57,268.4 642.33,269.4 643.13,270.4 643.98,271.4 644.88,272.4 645.83,273.4 646.81,274.4 647.82,275.4 648.86,276.4 649.92,277.4 651,278.4 652.1,279.4 653.23,280.4 654.38,281.4 655.56,282.4 656.75,283.4 657.95,284.4 659.14,285.4 660.33,286.4 661.5,287.4 662.64,288.4 663.73,289.4 664.75,290.4 665.7,291.4 666.58,292.4 667.4,293.4 668.11,294.4 668.71,295.4 669.24,296.4 669.68,297.4 670.03,298.4 670.25,299.4 670.32,300.4 670.23,301.4 670,302.4 669.68,303.4 669.32,304.4 668.93,305.4 668.47,306.4 667.9,307.4 667.22,308.4 666.47,309.4 665.67,310.4 664.84,311.4 663.98,312.4 663.12,313.4 662.29,314.4 661.54,315.4 660.89,316.4 660.34,317.4 659.85,318.4 659.45,319.4 659.13,320.4 658.91,321.4 658.78,322.4 658.73,323.4 658.79,324.4 658.95,325.4 659.18,326.4 659.48,327.4 659.83,328.4 660.26,329.4 660.73,330.4 661.2,331.4 661.63,332.4 662.01,333.4 662.34,334.4 662.62,335.4 662.84,336.4 662.99,337.4 663.06,338.4 663.06,339.4 663,340.4 662.85,341.4 662.59,342.4 662.25,343.4 661.83,344.4 661.33,345.4 660.71,346.4 660,347.4 659.21,348.4 658.36,349.4 657.44,350.4 656.43,351.4 655.38,352.4 654.29,353.4 653.2,354.4 652.09,355.4 650.98,356.4 649.88,357.4 648.79,358.4 647.72,359.4 646.68,360.4 645.66,361.4 644.68,362.4 643.76,363.4 642.89,364.4 642.07,365.4 641.3,366.4 640.59,367.4 639.95,368.4 639.37,369.4 638.85,370.4 638.39,371.4 638.04,372.4 637.7,372.5 L631.3,372.5 630.96,372.4 630.61,371.4 630.15,370.4 629.63,369.4 629.05,368.4 628.41,367.4 627.7,366.4 626.93,365.4 626.11,364.4 625.24,363.4 624.32,362.4 623.34,361.4 622.32,360.4 621.28,359.4 620.21,358.4 619.12,357.4 618.02,356.4 616.91,355.4 615.8,354.4 614.71,353.4 613.62,352.4 612.57,351.4 611.56,350.4 610.64,349.4 609.79,348.4 609,347.4 608.29,346.4 607.67,345.4 607.17,344.4 606.75,343.4 606.41,342.4 606.15,341.4 606,340.4 605.94,339.4 605.94,338.4 606.01,337.4 606.16,336.4 606.38,335.4 606.66,334.4 606.99,333.4 607.37,332.4 607.8,331.4 608.27,330.4 608.74,329.4 609.17,328.4 609.52,327.4 609.82,326.4 610.05,325.4 610.21,324.4 610.27,323.4 610.22,322.4 610.09,321.4 609.87,320.4 609.55,319.4 609.15,318.4 608.66,317.4 608.11,316.4 607.46,315.4 606.71,314.4 605.88,313.4 605.02,312.4 604.16,311.4 603.33,310.4 602.53,309.4 601.78,308.4 601.1,307.4 600.53,306.4 600.07,305.4 599.68,304.4 599.32,303.4 599,302.4 598.77,301.4 598.68,300.4 598.75,299.4 598.97,298.4 599.32,297.4 599.76,296.4 600.29,295.4 600.89,294.4 601.6,293.4 602.42,292.4 603.3,291.4 604.25,290.4 605.27,289.4 606.36,288.4 607.5,287.4 608.67,286.4 609.86,285.4 611.05,284.4 612.25,283.4 613.44,282.4 614.62,281.4 615.77,280.4 616.9,279.4 618,278.4 619.08,277.4 620.14,276.4 621.18,275.4 622.19,274.4 623.17,273.4 624.12,272.4 625.02,271.4 625.87,270.4 626.67,269.4 627.43,268.4 628.14,267.4 628.79,266.4 629.4,265.4 629.96,264.4 630.48,263.4 630.95,262.4 631.38,261.4 631.76,260.4 632.12,259.4 632.44,258.4 632.73,257.4 632.98,256.4 633.19,255.4 633.35,254.4 Z" fill="#e1812c" stroke="#3c3c3c" stroke-width="0.75" stroke-linejoin="round"/><line x1="634.5" y1="282.3" x2="634.5" y2="345.5" stroke="#3c3c3c" stroke-width="1.1"/><rect x="632.85" y="298.2" width="3.3" height="47.1" fill="#3c3c3c"/><rect x="633.3" y="309.35" width="2.4" height="1.3" fill="#d9d9d9"/><rect x="499.5" y="237.5" width="180" height="149" fill="none" stroke="#666666" stroke-width="1"/><line x1="497.19" y1="243.5" x2="499.5" y2="243.5" stroke="#666666" stroke-width="1"/><text x="481.6" y="245.4" font-size="5.9" textLength="13.65" lengthAdjust="spacingAndGlyphs" stroke="#000" stroke-width="0.1">1500</text><line x1="497.19" y1="262.5" x2="499.5" y2="262.5" stroke="#666666" stroke-width="1"/><text x="481.6" y="265.09" font-size="5.9" textLength="13.65" lengthAdjust="spacingAndGlyphs" stroke="#000" stroke-width="0.1">1250</text><line x1="497.19" y1="282.5" x2="499.5" y2="282.5" stroke="#666666" stroke-width="1"/><text x="481.6" y="284.77" font-size="5.9" textLength="13.65" lengthAdjust="spacingAndGlyphs" stroke="#000" stroke-width="0.1">1000</text><line x1="497.19" y1="302.5" x2="499.5" y2="302.5" stroke="#666666" stroke-width="1"/><text x="485.01" y="304.46" font-size="5.9" textLength="10.23" lengthAdjust="spacingAndGlyphs" stroke="#000" stroke-width="0.1">750</text><line x1="497.19" y1="321.5" x2="499.5" y2="321.5" stroke="#666666" stroke-width="1"/><text x="485.01" y="324.14" font-size="5.9" textLength="10.23" lengthAdjust="spacingAndGlyphs" stroke="#000" stroke-width="0.1">500</text><line x1="497.19" y1="341.5" x2="499.5" y2="341.5" stroke="#666666" stroke-width="1"/><text x="485.01" y="343.83" font-size="5.9" textLength="10.23" lengthAdjust="spacingAndGlyphs" stroke="#000" stroke-width="0.1">250</text><line x1="497.19" y1="361.5" x2="499.5" y2="361.5" stroke="#666666" stroke-width="1"/><text x="491.84" y="363.52" font-size="5.9" textLength="3.41" lengthAdjust="spacingAndGlyphs" stroke="#000" stroke-width="0.1">0</text><line x1="497.19" y1="380.5" x2="499.5" y2="380.5" stroke="#666666" stroke-width="1"/><text x="485.01" y="383.2" font-size="5.9" textLength="10.23" lengthAdjust="spacingAndGlyphs" stroke="#000" stroke-width="0.1">250</text><rect x="481.09" y="380.5" width="3.36" height="0.75" fill="#222"/><line x1="544.5" y1="386.5" x2="544.5" y2="388.81" stroke="#666666" stroke-width="1"/><text x="536" y="394.3" font-size="5.9" textLength="16.8" lengthAdjust="spacingAndGlyphs" stroke="#000" stroke-width="0.1">Actual</text><line x1="634.5" y1="386.5" x2="634.5" y2="388.81" stroke="#666666" stroke-width="1"/><text x="617.66" y="394.3" font-size="5.9" textLength="33.69" lengthAdjust="spacingAndGlyphs" stroke="#000" stroke-width="0.1">RF Predicted</text><text x="502.53" y="234.22" font-size="7.08" textLength="173.94" lengthAdjust="spacingAndGlyphs" stroke="#000" stroke-width="0.1">Distribution of Actual and Predicted Values for C (RFA)</text><text transform="translate(478.3,312.9) rotate(-90)" x="-1.87" y="0" font-size="5.9" textLength="3.74" lengthAdjust="spacingAndGlyphs" stroke="#000" stroke-width="0.1">C</text><text x="586.6" y="414.1" text-anchor="middle" font-family="Liberation Serif, serif" font-size="20.5" fill="#000" stroke="#fff" stroke-width="0.15">(f)</text></g>
<g font-family="Liberation Sans, sans-serif" fill="#000000" stroke="none" transform="translate(0,0)"><path d="M74.39,455.6 74.49,456.6 74.62,457.6 74.77,458.6 74.94,459.6 75.12,460.6 75.3,461.6 75.5,462.6 75.71,463.6 75.95,464.6 76.2,465.6 76.48,466.6 76.76,467.6 77.06,468.6 77.37,469.6 77.7,470.6 78.03,471.6 78.36,472.6 78.7,473.6 79.05,474.6 79.41,475.6 79.79,476.6 80.18,477.6 80.61,478.6 81.05,479.6 81.51,480.6 81.98,481.6 82.46,482.6 82.95,483.6 83.45,484.6 83.95,485.6 84.45,486.6 84.95,487.6 85.45,488.6 85.94,489.6 86.42,490.6 86.89,491.6 87.35,492.6 87.8,493.6 88.24,494.6 88.66,495.6 89.06,496.6 89.46,497.6 89.84,498.6 90.21,499.6 90.57,500.6 90.91,501.6 91.25,502.6 91.57,503.6 91.89,504.6 92.19,505.6 92.48,506.6 92.76,507.6 93.03,508.6 93.29,509.6 93.54,510.6 93.79,511.6 94.02,512.6 94.24,513.6 94.45,514.6 94.66,515.6 94.88,516.6 95.11,517.6 95.35,518.6 95.6,519.6 95.85,520.6 96.11,521.6 96.37,522.6 96.66,523.6 97.02,524.6 97.51,525.6 98.15,526.6 98.9,527.6 99.71,528.6 100.53,529.6 101.34,530.6 102.14,531.6 102.93,532.6 103.69,533.6 104.44,534.6 105.16,535.6 105.86,536.6 106.54,537.6 107.2,538.6 107.83,539.6 108.43,540.6 108.98,541.6 109.46,542.6 109.86,543.6 110.2,544.6 110.48,545.6 110.72,546.6 110.91,547.6 111.05,548.6 111.14,549.6 111.18,550.6 111.15,551.6 111.05,552.6 110.88,553.6 110.65,554.6 110.35,555.6 109.97,556.6 109.52,557.6 109.01,558.6 108.44,559.6 107.79,560.6 107.07,561.6 106.28,562.6 105.43,563.6 104.51,564.6 103.51,565.6 102.44,566.6 101.33,567.6 100.19,568.6 99.02,569.6 97.83,570.6 96.63,571.6 95.43,572.6 94.22,573.6 93.02,574.6 91.82,575.6 90.65,576.6 89.52,577.6 88.45,578.6 87.42,579.6 86.42,580.6 85.45,581.6 84.51,582.6 83.6,583.6 82.71,584.6 81.86,585.6 81.05,586.6 80.29,587.6 79.57,588.6 78.9,589.6 78.28,590.6 77.73,591.6 77.25,592.6 76.82,593.6 76.43,594.6 76.11,595.6 75.88,596.6 75.72,597.4 L71.08,597.4 70.92,596.6 70.69,595.6 70.37,594.6 69.98,593.6 69.55,592.6 69.07,591.6 68.52,590.6 67.9,589.6 67.23,588.6 66.51,587.6 65.75,586.6 64.94,585.6 64.09,584.6 63.2,583.6 62.29,582.6 61.35,581.6 60.38,580.6 59.38,579.6 58.35,578.6 57.28,577.6 56.15,576.6 54.98,575.6 53.78,574.6 52.58,573.6 51.37,572.6 50.17,571.6 48.97,570.6 47.78,569.6 46.61,568.6 45.47,567.6 44.36,566.6 43.29,565.6 42.29,564.6 41.37,563.6 40.52,562.6 39.73,561.6 39.01,560.6 38.36,559.6 37.79,558.6 37.28,557.6 36.83,556.6 36.45,555.6 36.15,554.6 35.92,553.6 35.75,552.6 35.65,551.6 35.62,550.6 35.66,549.6 35.75,548.6 35.89,547.6 36.08,546.6 36.32,545.6 36.6,544.6 36.94,543.6 37.34,542.6 37.82,541.6 38.37,540.6 38.97,539.6 39.6,538.6 40.26,537.6 40.94,536.6 41.64,535.6 42.36,534.6 43.11,533.6 43.87,532.6 44.66,531.6 45.46,530.6 46.27,529.6 47.09,528.6 47.9,527.6 48.65,526.6 49.29,525.6 49.78,524.6 50.14,523.6 50.43,522.6 50.69,521.6 50.95,520.6 51.2,519.6 51.45,518.6 51.69,517.6 51.92,516.6 52.14,515.6 52.35,514.6 52.56,513.6 52.78,512.6 53.01,511.6 53.26,510.6 53.51,509.6 53.77,508.6 54.04,507.6 54.32,506.6 54.61,505.6 54.91,504.6 55.23,503.6 55.55,502.6 55.89,501.6 56.23,500.6 56.59,499.6 56.96,498.6 57.34,497.6 57.74,496.6 58.14,495.6 58.56,494.6 59,493.6 59.45,492.6 59.91,491.6 60.38,490.6 60.86,489.6 61.35,488.6 61.85,487.6 62.35,486.6 62.85,485.6 63.35,484.6 63.85,483.6 64.34,482.6 64.82,481.6 65.29,480.6 65.75,479.6 66.19,478.6 66.62,477.6 67.01,476.6 67.39,475.6 67.75,474.6 68.1,473.6 68.44,472.6 68.77,471.6 69.1,470.6 69.43,469.6 69.74,468.6 70.04,467.6 70.32,466.6 70.6,465.6 70.85,464.6 71.09,463.6 71.3,462.6 71.5,461.6 71.68,460.6 71.86,459.6 72.03,458.6 72.18,457.6 72.31,456.6 72.41,455.6 Z" fill="#3274a1" stroke="#3c3c3c" stroke-width="0.75" stroke-linejoin="round"/><line x1="73.4" y1="487" x2="73.4" y2="566.9" stroke="#3c3c3c" stroke-width="1.1"/><rect x="71.75" y="513.1" width="3.3" height="47.9" fill="#3c3c3c"/><rect x="72.2" y="544.35" width="2.4" height="1.3" fill="#d9d9d9"/><path d="M168.65,464.4 168.81,465.4 169.02,466.4 169.25,467.4 169.5,468.4 169.75,469.4 170,470.4 170.25,471.4 170.51,472.4 170.79,473.4 171.07,474.4 171.37,475.4 171.68,476.4 172,477.4 172.34,478.4 172.7,479.4 173.06,480.4 173.43,481.4 173.81,482.4 174.2,483.4 174.59,484.4 174.97,485.4 175.35,486.4 175.7,487.4 176.04,488.4 176.36,489.4 176.67,490.4 176.97,491.4 177.26,492.4 177.52,493.4 177.77,494.4 177.98,495.4 178.15,496.4 178.31,497.4 178.44,498.4 178.56,499.4 178.67,500.4 178.77,501.4 178.87,502.4 178.98,503.4 179.11,504.4 179.26,505.4 179.42,506.4 179.61,507.4 179.83,508.4 180.08,509.4 180.36,510.4 180.68,511.4 181.02,512.4 181.41,513.4 181.84,514.4 182.3,515.4 182.8,516.4 183.35,517.4 183.95,518.4 184.6,519.4 185.27,520.4 185.97,521.4 186.7,522.4 187.47,523.4 188.26,524.4 189.08,525.4 189.93,526.4 190.82,527.4 191.74,528.4 192.68,529.4 193.65,530.4 194.65,531.4 195.66,532.4 196.67,533.4 197.67,534.4 198.65,535.4 199.61,536.4 200.51,537.4 201.33,538.4 202.05,539.4 202.7,540.4 203.27,541.4 203.78,542.4 204.2,543.4 204.55,544.4 204.84,545.4 205.07,546.4 205.2,547.4 205.25,548.4 205.23,549.4 205.15,550.4 204.98,551.4 204.73,552.4 204.4,553.4 204,554.4 203.51,555.4 202.91,556.4 202.2,557.4 201.41,558.4 200.56,559.4 199.64,560.4 198.63,561.4 197.57,562.4 196.47,563.4 195.35,564.4 194.19,565.4 193,566.4 191.8,567.4 190.59,568.4 189.37,569.4 188.15,570.4 186.92,571.4 185.7,572.4 184.49,573.4 183.29,574.4 182.11,575.4 180.95,576.4 179.83,577.4 178.75,578.4 177.72,579.4 176.73,580.4 175.77,581.4 174.87,582.4 174.02,583.4 173.23,584.4 172.5,585.4 171.88,586.4 171.39,587.4 171,588.4 170.67,589.4 170.37,590.4 170.12,591.4 169.95,592.1 L165.05,592.1 164.88,591.4 164.63,590.4 164.33,589.4 164,588.4 163.61,587.4 163.12,586.4 162.5,585.4 161.77,584.4 160.98,583.4 160.13,582.4 159.23,581.4 158.27,580.4 157.28,579.4 156.25,578.4 155.17,577.4 154.05,576.4 152.89,575.4 151.71,574.4 150.51,573.4 149.3,572.4 148.08,571.4 146.85,570.4 145.63,569.4 144.41,568.4 143.2,567.4 142,566.4 140.81,565.4 139.65,564.4 138.53,563.4 137.43,562.4 136.37,561.4 135.36,560.4 134.44,559.4 133.59,558.4 132.8,557.4 132.09,556.4 131.49,555.4 131,554.4 130.6,553.4 130.27,552.4 130.02,551.4 129.85,550.4 129.77,549.4 129.75,548.4 129.8,547.4 129.93,546.4 130.16,545.4 130.45,544.4 130.8,543.4 131.22,542.4 131.73,541.4 132.3,540.4 132.95,539.4 133.67,538.4 134.49,537.4 135.39,536.4 136.35,535.4 137.33,534.4 138.33,533.4 139.34,532.4 140.35,531.4 141.35,530.4 142.32,529.4 143.26,528.4 144.18,527.4 145.07,526.4 145.92,525.4 146.74,524.4 147.53,523.4 148.3,522.4 149.03,521.4 149.73,520.4 150.4,519.4 151.05,518.4 151.65,517.4 152.2,516.4 152.7,515.4 153.16,514.4 153.59,513.4 153.98,512.4 154.32,511.4 154.64,510.4 154.92,509.4 155.17,508.4 155.39,507.4 155.58,506.4 155.74,505.4 155.89,504.4 156.02,503.4 156.13,502.4 156.23,501.4 156.33,500.4 156.44,499.4 156.56,498.4 156.69,497.4 156.85,496.4 157.02,495.4 157.23,494.4 157.48,493.4 157.74,492.4 158.03,491.4 158.33,490.4 158.64,489.4 158.96,488.4 159.3,487.4 159.65,486.4 160.03,485.4 160.41,484.4 160.8,483.4 161.19,482.4 161.57,481.4 161.94,480.4 162.3,479.4 162.66,478.4 163,477.4 163.32,476.4 163.63,475.4 163.93,474.4 164.21,473.4 164.49,472.4 164.75,471.4 165,470.4 165.25,469.4 165.5,468.4 165.75,467.4 165.98,466.4 166.19,465.4 166.35,464.4 Z" fill="#e1812c" stroke="#3c3c3c" stroke-width="0.75" stroke-linejoin="round"/><line x1="167.5" y1="491.8" x2="167.5" y2="565.5" stroke="#3c3c3c" stroke-width="1.1"/><rect x="165.85" y="526.7" width="3.3" height="29" fill="#3c3c3c"/><rect x="166.3" y="544.95" width="2.4" height="1.3" fill="#d9d9d9"/><rect x="26.5" y="448.5" width="189" height="156" fill="none" stroke="#666666" stroke-width="1"/><line x1="24.08" y1="465.5" x2="26.5" y2="465.5" stroke="#666666" stroke-width="1"/><text x="14.69" y="467.5" font-size="6.19" textLength="7.16" lengthAdjust="spacingAndGlyphs" stroke="#000" stroke-width="0.1">10</text><line x1="24.08" y1="485.5" x2="26.5" y2="485.5" stroke="#666666" stroke-width="1"/><text x="18.28" y="487.5" font-size="6.19" textLength="3.58" lengthAdjust="spacingAndGlyphs" stroke="#000" stroke-width="0.1">8</text><line x1="24.08" y1="505.5" x2="26.5" y2="505.5" stroke="#666666" stroke-width="1"/><text x="18.28" y="507.5" font-size="6.19" textLength="3.58" lengthAdjust="spacingAndGlyphs" stroke="#000" stroke-width="0.1">6</text><line x1="24.08" y1="525.5" x2="26.5" y2="525.5" stroke="#666666" stroke-width="1"/><text x="18.28" y="527.5" font-size="6.19" textLength="3.58" lengthAdjust="spacingAndGlyphs" stroke="#000" stroke-width="0.1">4</text><line x1="24.08" y1="545.5" x2="26.5" y2="545.5" stroke="#666666" stroke-width="1"/><text x="18.28" y="547.5" font-size="6.19" textLength="3.58" lengthAdjust="spacingAndGlyphs" stroke="#000" stroke-width="0.1">2</text><line x1="24.08" y1="565.5" x2="26.5" y2="565.5" stroke="#666666" stroke-width="1"/><text x="18.28" y="567.5" font-size="6.19" textLength="3.58" lengthAdjust="spacingAndGlyphs" stroke="#000" stroke-width="0.1">0</text><line x1="24.08" y1="585.5" x2="26.5" y2="585.5" stroke="#666666" stroke-width="1"/><text x="18.28" y="587.5" font-size="6.19" textLength="3.58" lengthAdjust="spacingAndGlyphs" stroke="#000" stroke-width="0.1">2</text><rect x="14.15" y="584.7" width="3.52" height="0.75" fill="#222"/><line x1="73.5" y1="604.5" x2="73.5" y2="606.92" stroke="#666666" stroke-width="1"/><text x="64.58" y="613" font-size="6.19" textLength="17.64" lengthAdjust="spacingAndGlyphs" stroke="#000" stroke-width="0.1">Actual</text><line x1="167.5" y1="604.5" x2="167.5" y2="606.92" stroke="#666666" stroke-width="1"/><text x="149.81" y="613" font-size="6.19" textLength="35.37" lengthAdjust="spacingAndGlyphs" stroke="#000" stroke-width="0.1">RF Predicted</text><text x="23.66" y="444.85" font-size="7.43" textLength="194.07" lengthAdjust="spacingAndGlyphs" stroke="#000" stroke-width="0.1">Distribution of Actual and Predicted Values for LogP (RFA)</text><text transform="translate(10.4,527.5) rotate(-90)" x="-6.73" y="0" font-size="6.19" textLength="13.45" lengthAdjust="spacingAndGlyphs" stroke="#000" stroke-width="0.1">LogP</text><text x="99.5" y="635.4" text-anchor="middle" font-family="Liberation Serif, serif" font-size="20.5" fill="#000" stroke="#fff" stroke-width="0.15">(g)</text></g>
<g font-family="Liberation Sans, sans-serif" fill="#000000" stroke="none" transform="translate(0,0)"><path d="M305.92,460.2 306.04,461.2 306.2,462.2 306.4,463.2 306.6,464.2 306.82,465.2 307.06,466.2 307.31,467.2 307.57,468.2 307.86,469.2 308.17,470.2 308.51,471.2 308.86,472.2 309.22,473.2 309.61,474.2 310,475.2 310.41,476.2 310.83,477.2 311.26,478.2 311.7,479.2 312.15,480.2 312.61,481.2 313.08,482.2 313.56,483.2 314.06,484.2 314.56,485.2 315.08,486.2 315.63,487.2 316.2,488.2 316.78,489.2 317.37,490.2 317.96,491.2 318.55,492.2 319.15,493.2 319.75,494.2 320.38,495.2 321.03,496.2 321.71,497.2 322.41,498.2 323.11,499.2 323.82,500.2 324.54,501.2 325.26,502.2 325.97,503.2 326.68,504.2 327.39,505.2 328.08,506.2 328.78,507.2 329.47,508.2 330.17,509.2 330.86,510.2 331.55,511.2 332.23,512.2 332.9,513.2 333.55,514.2 334.19,515.2 334.82,516.2 335.44,517.2 336.03,518.2 336.61,519.2 337.17,520.2 337.7,521.2 338.18,522.2 338.63,523.2 339.03,524.2 339.41,525.2 339.76,526.2 340.08,527.2 340.38,528.2 340.65,529.2 340.87,530.2 341.04,531.2 341.16,532.2 341.23,533.2 341.22,534.2 341.13,535.2 340.99,536.2 340.8,537.2 340.56,538.2 340.25,539.2 339.89,540.2 339.48,541.2 339.02,542.2 338.5,543.2 337.93,544.2 337.33,545.2 336.71,546.2 336.06,547.2 335.4,548.2 334.72,549.2 334.02,550.2 333.3,551.2 332.54,552.2 331.76,553.2 330.96,554.2 330.15,555.2 329.35,556.2 328.54,557.2 327.73,558.2 326.93,559.2 326.13,560.2 325.33,561.2 324.53,562.2 323.73,563.2 322.94,564.2 322.14,565.2 321.35,566.2 320.55,567.2 319.75,568.2 318.95,569.2 318.14,570.2 317.33,571.2 316.54,572.2 315.77,573.2 315.03,574.2 314.32,575.2 313.63,576.2 312.95,577.2 312.28,578.2 311.62,579.2 310.98,580.2 310.37,581.2 309.81,582.2 309.29,583.2 308.81,584.2 308.37,585.2 307.95,586.2 307.56,587.2 307.2,588.2 306.88,589.2 306.6,590.2 306.39,591.2 306.24,592.2 306.14,593.2 306.07,594.2 306,595.2 305.95,596.2 305.9,596.5 L303.9,596.5 303.85,596.2 303.8,595.2 303.73,594.2 303.66,593.2 303.56,592.2 303.41,591.2 303.2,590.2 302.92,589.2 302.6,588.2 302.24,587.2 301.85,586.2 301.43,585.2 300.99,584.2 300.51,583.2 299.99,582.2 299.43,581.2 298.82,580.2 298.18,579.2 297.52,578.2 296.85,577.2 296.17,576.2 295.48,575.2 294.77,574.2 294.03,573.2 293.26,572.2 292.47,571.2 291.66,570.2 290.85,569.2 290.05,568.2 289.25,567.2 288.45,566.2 287.66,565.2 286.86,564.2 286.07,563.2 285.27,562.2 284.47,561.2 283.67,560.2 282.87,559.2 282.07,558.2 281.26,557.2 280.45,556.2 279.65,555.2 278.84,554.2 278.04,553.2 277.26,552.2 276.5,551.2 275.78,550.2 275.08,549.2 274.4,548.2 273.74,547.2 273.09,546.2 272.47,545.2 271.87,544.2 271.3,543.2 270.78,542.2 270.32,541.2 269.91,540.2 269.55,539.2 269.24,538.2 269,537.2 268.81,536.2 268.67,535.2 268.58,534.2 268.57,533.2 268.64,532.2 268.76,531.2 268.93,530.2 269.15,529.2 269.42,528.2 269.72,527.2 270.04,526.2 270.39,525.2 270.77,524.2 271.17,523.2 271.62,522.2 272.1,521.2 272.63,520.2 273.19,519.2 273.77,518.2 274.36,517.2 274.98,516.2 275.61,515.2 276.25,514.2 276.9,513.2 277.57,512.2 278.25,511.2 278.94,510.2 279.63,509.2 280.33,508.2 281.02,507.2 281.72,506.2 282.41,505.2 283.12,504.2 283.83,503.2 284.54,502.2 285.26,501.2 285.98,500.2 286.69,499.2 287.39,498.2 288.09,497.2 288.77,496.2 289.42,495.2 290.05,494.2 290.65,493.2 291.25,492.2 291.84,491.2 292.43,490.2 293.02,489.2 293.6,488.2 294.17,487.2 294.72,486.2 295.24,485.2 295.74,484.2 296.24,483.2 296.72,482.2 297.19,481.2 297.65,480.2 298.1,479.2 298.54,478.2 298.97,477.2 299.39,476.2 299.8,475.2 300.19,474.2 300.58,473.2 300.94,472.2 301.29,471.2 301.63,470.2 301.94,469.2 302.23,468.2 302.49,467.2 302.74,466.2 302.98,465.2 303.2,464.2 303.4,463.2 303.6,462.2 303.76,461.2 303.88,460.2 Z" fill="#3274a1" stroke="#3c3c3c" stroke-width="0.75" stroke-linejoin="round"/><line x1="304.9" y1="488.3" x2="304.9" y2="568.9" stroke="#3c3c3c" stroke-width="1.1"/><rect x="303.25" y="513.9" width="3.3" height="38.3" fill="#3c3c3c"/><rect x="303.7" y="531.15" width="2.4" height="1.3" fill="#d9d9d9"/><path d="M396.64,467.2 396.79,468.2 396.99,469.2 397.23,470.2 397.48,471.2 397.76,472.2 398.06,473.2 398.37,474.2 398.7,475.2 399.05,476.2 399.41,477.2 399.8,478.2 400.2,479.2 400.62,480.2 401.06,481.2 401.52,482.2 402,483.2 402.49,484.2 403.01,485.2 403.55,486.2 404.11,487.2 404.68,488.2 405.26,489.2 405.84,490.2 406.43,491.2 407.03,492.2 407.65,493.2 408.3,494.2 408.97,495.2 409.67,496.2 410.39,497.2 411.13,498.2 411.89,499.2 412.68,500.2 413.47,501.2 414.26,502.2 415.06,503.2 415.85,504.2 416.65,505.2 417.45,506.2 418.25,507.2 419.06,508.2 419.87,509.2 420.68,510.2 421.49,511.2 422.29,512.2 423.09,513.2 423.87,514.2 424.64,515.2 425.39,516.2 426.11,517.2 426.82,518.2 427.5,519.2 428.14,520.2 428.75,521.2 429.33,522.2 429.86,523.2 430.33,524.2 430.71,525.2 431.02,526.2 431.27,527.2 431.47,528.2 431.63,529.2 431.75,530.2 431.84,531.2 431.9,532.2 431.92,533.2 431.91,534.2 431.86,535.2 431.78,536.2 431.65,537.2 431.49,538.2 431.31,539.2 431.12,540.2 430.94,541.2 430.77,542.2 430.62,543.2 430.47,544.2 430.31,545.2 430.14,546.2 429.94,547.2 429.74,548.2 429.51,549.2 429.27,550.2 429,551.2 428.69,552.2 428.34,553.2 427.9,554.2 427.36,555.2 426.72,556.2 426,557.2 425.21,558.2 424.31,559.2 423.31,560.2 422.25,561.2 421.15,562.2 420.02,563.2 418.85,564.2 417.67,565.2 416.47,566.2 415.27,567.2 414.08,568.2 412.9,569.2 411.73,570.2 410.58,571.2 409.47,572.2 408.4,573.2 407.36,574.2 406.35,575.2 405.37,576.2 404.42,577.2 403.5,578.2 402.62,579.2 401.8,580.2 401.06,581.2 400.4,582.2 399.8,583.2 399.27,584.2 398.83,585.2 398.47,586.2 398.18,587.2 397.93,588.2 397.7,589.2 397.5,590.2 397.34,591.2 L393.66,591.2 393.5,590.2 393.3,589.2 393.07,588.2 392.82,587.2 392.53,586.2 392.17,585.2 391.73,584.2 391.2,583.2 390.6,582.2 389.94,581.2 389.2,580.2 388.38,579.2 387.5,578.2 386.58,577.2 385.63,576.2 384.65,575.2 383.64,574.2 382.6,573.2 381.53,572.2 380.42,571.2 379.27,570.2 378.1,569.2 376.92,568.2 375.73,567.2 374.53,566.2 373.33,565.2 372.15,564.2 370.98,563.2 369.85,562.2 368.75,561.2 367.69,560.2 366.69,559.2 365.79,558.2 365,557.2 364.28,556.2 363.64,555.2 363.1,554.2 362.66,553.2 362.31,552.2 362,551.2 361.73,550.2 361.49,549.2 361.26,548.2 361.06,547.2 360.86,546.2 360.69,545.2 360.53,544.2 360.38,543.2 360.23,542.2 360.06,541.2 359.88,540.2 359.69,539.2 359.51,538.2 359.35,537.2 359.22,536.2 359.14,535.2 359.09,534.2 359.08,533.2 359.1,532.2 359.16,531.2 359.25,530.2 359.37,529.2 359.53,528.2 359.73,527.2 359.98,526.2 360.29,525.2 360.67,524.2 361.14,523.2 361.67,522.2 362.25,521.2 362.86,520.2 363.5,519.2 364.18,518.2 364.89,517.2 365.61,516.2 366.36,515.2 367.13,514.2 367.91,513.2 368.71,512.2 369.51,511.2 370.32,510.2 371.13,509.2 371.94,508.2 372.75,507.2 373.55,506.2 374.35,505.2 375.15,504.2 375.94,503.2 376.74,502.2 377.53,501.2 378.32,500.2 379.11,499.2 379.87,498.2 380.61,497.2 381.33,496.2 382.03,495.2 382.7,494.2 383.35,493.2 383.97,492.2 384.57,491.2 385.16,490.2 385.74,489.2 386.32,488.2 386.89,487.2 387.45,486.2 387.99,485.2 388.51,484.2 389,483.2 389.48,482.2 389.94,481.2 390.38,480.2 390.8,479.2 391.2,478.2 391.59,477.2 391.95,476.2 392.3,475.2 392.63,474.2 392.94,473.2 393.24,472.2 393.52,471.2 393.77,470.2 394.01,469.2 394.21,468.2 394.36,467.2 Z" fill="#e1812c" stroke="#3c3c3c" stroke-width="0.75" stroke-linejoin="round"/><line x1="395.5" y1="493.3" x2="395.5" y2="565.9" stroke="#3c3c3c" stroke-width="1.1"/><rect x="393.85" y="520.5" width="3.3" height="35.4" fill="#3c3c3c"/><rect x="394.3" y="532.45" width="2.4" height="1.3" fill="#d9d9d9"/><rect x="260.5" y="453.5" width="181" height="150" fill="none" stroke="#666666" stroke-width="1"/><line x1="258.18" y1="472.5" x2="260.5" y2="472.5" stroke="#666666" stroke-width="1"/><text x="248.75" y="474.42" font-size="5.94" textLength="6.87" lengthAdjust="spacingAndGlyphs" stroke="#000" stroke-width="0.1">80</text><line x1="258.18" y1="501.5" x2="260.5" y2="501.5" stroke="#666666" stroke-width="1"/><text x="248.75" y="504.22" font-size="5.94" textLength="6.87" lengthAdjust="spacingAndGlyphs" stroke="#000" stroke-width="0.1">60</text><line x1="258.18" y1="531.5" x2="260.5" y2="531.5" stroke="#666666" stroke-width="1"/><text x="248.75" y="534.02" font-size="5.94" textLength="6.87" lengthAdjust="spacingAndGlyphs" stroke="#000" stroke-width="0.1">40</text><line x1="258.18" y1="561.5" x2="260.5" y2="561.5" stroke="#666666" stroke-width="1"/><text x="248.75" y="563.82" font-size="5.94" textLength="6.87" lengthAdjust="spacingAndGlyphs" stroke="#000" stroke-width="0.1">20</text><line x1="258.18" y1="591.5" x2="260.5" y2="591.5" stroke="#666666" stroke-width="1"/><text x="252.18" y="593.62" font-size="5.94" textLength="3.44" lengthAdjust="spacingAndGlyphs" stroke="#000" stroke-width="0.1">0</text><line x1="304.5" y1="603.5" x2="304.5" y2="605.82" stroke="#666666" stroke-width="1"/><text x="296.44" y="611.3" font-size="5.94" textLength="16.92" lengthAdjust="spacingAndGlyphs" stroke="#000" stroke-width="0.1">Actual</text><line x1="395.5" y1="603.5" x2="395.5" y2="605.82" stroke="#666666" stroke-width="1"/><text x="378.53" y="611.3" font-size="5.94" textLength="33.93" lengthAdjust="spacingAndGlyphs" stroke="#000" stroke-width="0.1">RF Predicted</text><text x="263.2" y="450" font-size="7.13" textLength="174.6" lengthAdjust="spacingAndGlyphs" stroke="#000" stroke-width="0.1">Distribution of Actual and Predicted Values for P (RFA)</text><text transform="translate(245,529.3) rotate(-90)" x="-1.63" y="0" font-size="5.94" textLength="3.26" lengthAdjust="spacingAndGlyphs" stroke="#000" stroke-width="0.1">P</text><text x="346.3" y="635.4" text-anchor="middle" font-family="Liberation Serif, serif" font-size="20.5" fill="#000" stroke="#fff" stroke-width="0.15">(h)</text></g>
<g font-family="Liberation Sans, sans-serif" fill="#000000" stroke="none" transform="translate(0,0)"><path d="M543.38,465.8 543.57,466.8 543.83,467.8 544.13,468.8 544.47,469.8 544.83,470.8 545.23,471.8 545.65,472.8 546.1,473.8 546.6,474.8 547.13,475.8 547.7,476.8 548.29,477.8 548.92,478.8 549.57,479.8 550.25,480.8 550.94,481.8 551.64,482.8 552.34,483.8 553.04,484.8 553.74,485.8 554.45,486.8 555.15,487.8 555.86,488.8 556.56,489.8 557.26,490.8 557.96,491.8 558.65,492.8 559.33,493.8 560.02,494.8 560.71,495.8 561.4,496.8 562.1,497.8 562.78,498.8 563.44,499.8 564.06,500.8 564.62,501.8 565.14,502.8 565.63,503.8 566.09,504.8 566.53,505.8 566.94,506.8 567.35,507.8 567.75,508.8 568.15,509.8 568.56,510.8 568.97,511.8 569.38,512.8 569.8,513.8 570.22,514.8 570.65,515.8 571.08,516.8 571.5,517.8 571.92,518.8 572.33,519.8 572.74,520.8 573.15,521.8 573.54,522.8 573.94,523.8 574.32,524.8 574.69,525.8 575.03,526.8 575.35,527.8 575.64,528.8 575.91,529.8 576.16,530.8 576.4,531.8 576.62,532.8 576.82,533.8 576.97,534.8 577.07,535.8 577.08,536.8 577.02,537.8 576.9,538.8 576.71,539.8 576.46,540.8 576.12,541.8 575.72,542.8 575.27,543.8 574.78,544.8 574.26,545.8 573.71,546.8 573.13,547.8 572.53,548.8 571.9,549.8 571.24,550.8 570.55,551.8 569.86,552.8 569.16,553.8 568.46,554.8 567.76,555.8 567.07,556.8 566.37,557.8 565.68,558.8 564.99,559.8 564.29,560.8 563.6,561.8 562.9,562.8 562.2,563.8 561.5,564.8 560.8,565.8 560.09,566.8 559.39,567.8 558.68,568.8 557.98,569.8 557.28,570.8 556.57,571.8 555.87,572.8 555.17,573.8 554.48,574.8 553.78,575.8 553.08,576.8 552.37,577.8 551.67,578.8 550.98,579.8 550.31,580.8 549.65,581.8 549.01,582.8 548.38,583.8 547.78,584.8 547.21,585.8 546.67,586.8 546.15,587.8 545.66,588.8 545.2,589.8 544.78,590.8 544.4,591.8 544.05,592.8 543.78,593.8 543.58,594.8 543.44,595.8 543.34,596.8 543.27,597.8 543.2,598.2 L540.6,598.2 540.53,597.8 540.46,596.8 540.36,595.8 540.22,594.8 540.02,593.8 539.75,592.8 539.4,591.8 539.02,590.8 538.6,589.8 538.14,588.8 537.65,587.8 537.13,586.8 536.59,585.8 536.02,584.8 535.42,583.8 534.79,582.8 534.15,581.8 533.49,580.8 532.82,579.8 532.13,578.8 531.43,577.8 530.72,576.8 530.02,575.8 529.32,574.8 528.63,573.8 527.93,572.8 527.23,571.8 526.52,570.8 525.82,569.8 525.12,568.8 524.41,567.8 523.71,566.8 523,565.8 522.3,564.8 521.6,563.8 520.9,562.8 520.2,561.8 519.51,560.8 518.81,559.8 518.12,558.8 517.43,557.8 516.73,556.8 516.04,555.8 515.34,554.8 514.64,553.8 513.94,552.8 513.25,551.8 512.56,550.8 511.9,549.8 511.27,548.8 510.67,547.8 510.09,546.8 509.54,545.8 509.02,544.8 508.53,543.8 508.08,542.8 507.68,541.8 507.34,540.8 507.09,539.8 506.9,538.8 506.78,537.8 506.72,536.8 506.73,535.8 506.83,534.8 506.98,533.8 507.18,532.8 507.4,531.8 507.64,530.8 507.89,529.8 508.16,528.8 508.45,527.8 508.77,526.8 509.11,525.8 509.48,524.8 509.86,523.8 510.26,522.8 510.65,521.8 511.06,520.8 511.47,519.8 511.88,518.8 512.3,517.8 512.72,516.8 513.15,515.8 513.58,514.8 514,513.8 514.42,512.8 514.83,511.8 515.24,510.8 515.65,509.8 516.05,508.8 516.45,507.8 516.86,506.8 517.27,505.8 517.71,504.8 518.17,503.8 518.66,502.8 519.18,501.8 519.74,500.8 520.36,499.8 521.02,498.8 521.7,497.8 522.4,496.8 523.09,495.8 523.78,494.8 524.47,493.8 525.15,492.8 525.84,491.8 526.54,490.8 527.24,489.8 527.94,488.8 528.65,487.8 529.35,486.8 530.06,485.8 530.76,484.8 531.46,483.8 532.16,482.8 532.86,481.8 533.55,480.8 534.23,479.8 534.88,478.8 535.51,477.8 536.1,476.8 536.67,475.8 537.2,474.8 537.7,473.8 538.15,472.8 538.57,471.8 538.97,470.8 539.33,469.8 539.67,468.8 539.97,467.8 540.23,466.8 540.42,465.8 Z" fill="#3274a1" stroke="#3c3c3c" stroke-width="0.75" stroke-linejoin="round"/><line x1="541.9" y1="494.2" x2="541.9" y2="569.7" stroke="#3c3c3c" stroke-width="1.1"/><rect x="540.25" y="509.1" width="3.3" height="42.4" fill="#3c3c3c"/><rect x="540.7" y="531.35" width="2.4" height="1.3" fill="#d9d9d9"/><path d="M631.83,470.4 632.07,471.4 632.4,472.4 632.77,473.4 633.17,474.4 633.6,475.4 634.04,476.4 634.5,477.4 634.99,478.4 635.51,479.4 636.09,480.4 636.7,481.4 637.34,482.4 638.03,483.4 638.76,484.4 639.53,485.4 640.32,486.4 641.14,487.4 641.98,488.4 642.84,489.4 643.71,490.4 644.58,491.4 645.43,492.4 646.26,493.4 647.06,494.4 647.85,495.4 648.62,496.4 649.36,497.4 650.09,498.4 650.8,499.4 651.49,500.4 652.18,501.4 652.85,502.4 653.51,503.4 654.15,504.4 654.77,505.4 655.36,506.4 655.93,507.4 656.48,508.4 657.02,509.4 657.56,510.4 658.1,511.4 658.64,512.4 659.17,513.4 659.7,514.4 660.22,515.4 660.74,516.4 661.25,517.4 661.74,518.4 662.19,519.4 662.62,520.4 663.02,521.4 663.39,522.4 663.71,523.4 663.99,524.4 664.23,525.4 664.44,526.4 664.62,527.4 664.77,528.4 664.89,529.4 665,530.4 665.1,531.4 665.2,532.4 665.29,533.4 665.38,534.4 665.45,535.4 665.5,536.4 665.54,537.4 665.56,538.4 665.55,539.4 665.53,540.4 665.49,541.4 665.44,542.4 665.39,543.4 665.34,544.4 665.29,545.4 665.23,546.4 665.14,547.4 665.03,548.4 664.88,549.4 664.71,550.4 664.51,551.4 664.26,552.4 663.96,553.4 663.62,554.4 663.21,555.4 662.73,556.4 662.15,557.4 661.49,558.4 660.76,559.4 659.97,560.4 659.11,561.4 658.17,562.4 657.17,563.4 656.13,564.4 655.04,565.4 653.9,566.4 652.72,567.4 651.53,568.4 650.33,569.4 649.14,570.4 647.96,571.4 646.78,572.4 645.62,573.4 644.47,574.4 643.34,575.4 642.23,576.4 641.15,577.4 640.12,578.4 639.15,579.4 638.22,580.4 637.34,581.4 636.51,582.4 635.75,583.4 635.04,584.4 634.4,585.4 633.83,586.4 633.35,587.4 632.97,588.4 632.66,589.4 632.38,590.4 632.12,591.4 631.9,592.4 631.74,593.2 L627.46,593.2 627.3,592.4 627.08,591.4 626.82,590.4 626.54,589.4 626.23,588.4 625.85,587.4 625.37,586.4 624.8,585.4 624.16,584.4 623.45,583.4 622.69,582.4 621.86,581.4 620.98,580.4 620.05,579.4 619.08,578.4 618.05,577.4 616.97,576.4 615.86,575.4 614.73,574.4 613.58,573.4 612.42,572.4 611.24,571.4 610.06,570.4 608.87,569.4 607.67,568.4 606.48,567.4 605.3,566.4 604.16,565.4 603.07,564.4 602.03,563.4 601.03,562.4 600.09,561.4 599.23,560.4 598.44,559.4 597.71,558.4 597.05,557.4 596.47,556.4 595.99,555.4 595.58,554.4 595.24,553.4 594.94,552.4 594.69,551.4 594.49,550.4 594.32,549.4 594.17,548.4 594.06,547.4 593.97,546.4 593.91,545.4 593.86,544.4 593.81,543.4 593.76,542.4 593.71,541.4 593.67,540.4 593.65,539.4 593.64,538.4 593.66,537.4 593.7,536.4 593.75,535.4 593.82,534.4 593.91,533.4 594,532.4 594.1,531.4 594.2,530.4 594.31,529.4 594.43,528.4 594.58,527.4 594.76,526.4 594.97,525.4 595.21,524.4 595.49,523.4 595.81,522.4 596.18,521.4 596.58,520.4 597.01,519.4 597.46,518.4 597.95,517.4 598.46,516.4 598.98,515.4 599.5,514.4 600.03,513.4 600.56,512.4 601.1,511.4 601.64,510.4 602.18,509.4 602.72,508.4 603.27,507.4 603.84,506.4 604.43,505.4 605.05,504.4 605.69,503.4 606.35,502.4 607.02,501.4 607.71,500.4 608.4,499.4 609.11,498.4 609.84,497.4 610.58,496.4 611.35,495.4 612.14,494.4 612.94,493.4 613.77,492.4 614.62,491.4 615.49,490.4 616.36,489.4 617.22,488.4 618.06,487.4 618.88,486.4 619.67,485.4 620.44,484.4 621.17,483.4 621.86,482.4 622.5,481.4 623.11,480.4 623.69,479.4 624.21,478.4 624.7,477.4 625.16,476.4 625.6,475.4 626.03,474.4 626.43,473.4 626.8,472.4 627.13,471.4 627.37,470.4 Z" fill="#e1812c" stroke="#3c3c3c" stroke-width="0.75" stroke-linejoin="round"/><line x1="629.6" y1="498" x2="629.6" y2="566" stroke="#3c3c3c" stroke-width="1.1"/><rect x="627.95" y="517.3" width="3.3" height="38.6" fill="#3c3c3c"/><rect x="628.4" y="531.85" width="2.4" height="1.3" fill="#d9d9d9"/><rect x="498.5" y="459.5" width="176" height="145" fill="none" stroke="#666666" stroke-width="1"/><line x1="496.24" y1="464.5" x2="498.5" y2="464.5" stroke="#666666" stroke-width="1"/><text x="483.9" y="466.56" font-size="5.78" textLength="10.02" lengthAdjust="spacingAndGlyphs" stroke="#000" stroke-width="0.1">600</text><line x1="496.24" y1="486.5" x2="498.5" y2="486.5" stroke="#666666" stroke-width="1"/><text x="483.9" y="488.59" font-size="5.78" textLength="10.02" lengthAdjust="spacingAndGlyphs" stroke="#000" stroke-width="0.1">500</text><line x1="496.24" y1="508.5" x2="498.5" y2="508.5" stroke="#666666" stroke-width="1"/><text x="483.9" y="510.63" font-size="5.78" textLength="10.02" lengthAdjust="spacingAndGlyphs" stroke="#000" stroke-width="0.1">400</text><line x1="496.24" y1="530.5" x2="498.5" y2="530.5" stroke="#666666" stroke-width="1"/><text x="483.9" y="532.66" font-size="5.78" textLength="10.02" lengthAdjust="spacingAndGlyphs" stroke="#000" stroke-width="0.1">300</text><line x1="496.24" y1="552.5" x2="498.5" y2="552.5" stroke="#666666" stroke-width="1"/><text x="483.9" y="554.69" font-size="5.78" textLength="10.02" lengthAdjust="spacingAndGlyphs" stroke="#000" stroke-width="0.1">200</text><line x1="496.24" y1="574.5" x2="498.5" y2="574.5" stroke="#666666" stroke-width="1"/><text x="483.9" y="576.73" font-size="5.78" textLength="10.02" lengthAdjust="spacingAndGlyphs" stroke="#000" stroke-width="0.1">100</text><line x1="496.24" y1="596.5" x2="498.5" y2="596.5" stroke="#666666" stroke-width="1"/><text x="490.58" y="598.76" font-size="5.78" textLength="3.34" lengthAdjust="spacingAndGlyphs" stroke="#000" stroke-width="0.1">0</text><line x1="541.5" y1="604.5" x2="541.5" y2="606.76" stroke="#666666" stroke-width="1"/><text x="533.68" y="612.7" font-size="5.78" textLength="16.45" lengthAdjust="spacingAndGlyphs" stroke="#000" stroke-width="0.1">Actual</text><line x1="629.5" y1="604.5" x2="629.5" y2="606.76" stroke="#666666" stroke-width="1"/><text x="613.11" y="612.7" font-size="5.78" textLength="32.98" lengthAdjust="spacingAndGlyphs" stroke="#000" stroke-width="0.1">RF Predicted</text><text x="498.47" y="456.09" font-size="6.93" textLength="175.67" lengthAdjust="spacingAndGlyphs" stroke="#000" stroke-width="0.1">Distribution of Actual and Predicted Values for MV (RFA)</text><text transform="translate(481.4,533.1) rotate(-90)" x="-4.06" y="0" font-size="5.78" textLength="8.12" lengthAdjust="spacingAndGlyphs" stroke="#000" stroke-width="0.1">MV</text><text x="579.1" y="635.4" text-anchor="middle" font-family="Liberation Serif, serif" font-size="20.5" fill="#000" stroke="#fff" stroke-width="0.15">(i)</text></g>
<g font-family="Liberation Sans, sans-serif" fill="#000000" stroke="none" transform="translate(0,0)"><path d="M313.84,674.2 313.99,675.2 314.2,676.2 314.43,677.2 314.69,678.2 314.98,679.2 315.29,680.2 315.63,681.2 316,682.2 316.42,683.2 316.88,684.2 317.39,685.2 317.92,686.2 318.49,687.2 319.08,688.2 319.69,689.2 320.33,690.2 320.98,691.2 321.64,692.2 322.33,693.2 323.02,694.2 323.72,695.2 324.42,696.2 325.11,697.2 325.8,698.2 326.49,699.2 327.21,700.2 327.96,701.2 328.74,702.2 329.55,703.2 330.36,704.2 331.17,705.2 331.97,706.2 332.77,707.2 333.56,708.2 334.34,709.2 335.11,710.2 335.87,711.2 336.62,712.2 337.37,713.2 338.12,714.2 338.87,715.2 339.61,716.2 340.35,717.2 341.08,718.2 341.8,719.2 342.5,720.2 343.2,721.2 343.87,722.2 344.51,723.2 345.13,724.2 345.72,725.2 346.28,726.2 346.79,727.2 347.26,728.2 347.68,729.2 348.07,730.2 348.41,731.2 348.71,732.2 348.95,733.2 349.16,734.2 349.34,735.2 349.49,736.2 349.61,737.2 349.7,738.2 349.75,739.2 349.75,740.2 349.68,741.2 349.53,742.2 349.29,743.2 348.95,744.2 348.53,745.2 348.03,746.2 347.47,747.2 346.87,748.2 346.24,749.2 345.6,750.2 344.97,751.2 344.35,752.2 343.73,753.2 343.14,754.2 342.56,755.2 342.01,756.2 341.49,757.2 341,758.2 340.55,759.2 340.15,760.2 339.8,761.2 339.49,762.2 339.2,763.2 338.94,764.2 338.72,765.2 338.51,766.2 338.31,767.2 338.11,768.2 337.91,769.2 337.71,770.2 337.5,771.2 337.27,772.2 337.02,773.2 336.74,774.2 336.44,775.2 336.11,776.2 335.74,777.2 335.31,778.2 334.84,779.2 334.33,780.2 333.81,781.2 333.26,782.2 332.68,783.2 332.08,784.2 331.44,785.2 330.73,786.2 329.97,787.2 329.17,788.2 328.34,789.2 327.52,790.2 326.71,791.2 325.91,792.2 325.11,793.2 324.32,794.2 323.52,795.2 322.73,796.2 321.94,797.2 321.17,798.2 320.42,799.2 319.7,800.2 319.01,801.2 318.35,802.2 317.73,803.2 317.15,804.2 316.62,805.2 316.14,806.2 315.72,807.2 315.37,808.2 315.11,809.2 314.91,810.2 314.74,811.2 314.57,812.2 314.43,813.2 314.32,814.2 314.2,814.4 L311,814.4 310.88,814.2 310.77,813.2 310.63,812.2 310.46,811.2 310.29,810.2 310.09,809.2 309.83,808.2 309.48,807.2 309.06,806.2 308.58,805.2 308.05,804.2 307.47,803.2 306.85,802.2 306.19,801.2 305.5,800.2 304.78,799.2 304.03,798.2 303.26,797.2 302.47,796.2 301.68,795.2 300.88,794.2 300.09,793.2 299.29,792.2 298.49,791.2 297.68,790.2 296.86,789.2 296.03,788.2 295.23,787.2 294.47,786.2 293.76,785.2 293.12,784.2 292.52,783.2 291.94,782.2 291.39,781.2 290.87,780.2 290.36,779.2 289.89,778.2 289.46,777.2 289.09,776.2 288.76,775.2 288.46,774.2 288.18,773.2 287.93,772.2 287.7,771.2 287.49,770.2 287.29,769.2 287.09,768.2 286.89,767.2 286.69,766.2 286.48,765.2 286.26,764.2 286,763.2 285.71,762.2 285.4,761.2 285.05,760.2 284.65,759.2 284.2,758.2 283.71,757.2 283.19,756.2 282.64,755.2 282.06,754.2 281.47,753.2 280.85,752.2 280.23,751.2 279.6,750.2 278.96,749.2 278.33,748.2 277.73,747.2 277.17,746.2 276.67,745.2 276.25,744.2 275.91,743.2 275.67,742.2 275.52,741.2 275.45,740.2 275.45,739.2 275.5,738.2 275.59,737.2 275.71,736.2 275.86,735.2 276.04,734.2 276.25,733.2 276.49,732.2 276.79,731.2 277.13,730.2 277.52,729.2 277.94,728.2 278.41,727.2 278.92,726.2 279.48,725.2 280.07,724.2 280.69,723.2 281.33,722.2 282,721.2 282.7,720.2 283.4,719.2 284.12,718.2 284.85,717.2 285.59,716.2 286.33,715.2 287.08,714.2 287.83,713.2 288.58,712.2 289.33,711.2 290.09,710.2 290.86,709.2 291.64,708.2 292.43,707.2 293.23,706.2 294.03,705.2 294.84,704.2 295.65,703.2 296.46,702.2 297.24,701.2 297.99,700.2 298.71,699.2 299.4,698.2 300.09,697.2 300.78,696.2 301.48,695.2 302.18,694.2 302.87,693.2 303.56,692.2 304.22,691.2 304.87,690.2 305.51,689.2 306.12,688.2 306.71,687.2 307.28,686.2 307.81,685.2 308.32,684.2 308.78,683.2 309.2,682.2 309.57,681.2 309.91,680.2 310.22,679.2 310.51,678.2 310.77,677.2 311,676.2 311.21,675.2 311.36,674.2 Z" fill="#3274a1" stroke="#3c3c3c" stroke-width="0.75" stroke-linejoin="round"/><line x1="312.6" y1="704.2" x2="312.6" y2="784.5" stroke="#3c3c3c" stroke-width="1.1"/><rect x="310.95" y="726.8" width="3.3" height="43.7" fill="#3c3c3c"/><rect x="311.4" y="743.15" width="2.4" height="1.3" fill="#d9d9d9"/><path d="M407.12,679.8 407.3,680.8 407.55,681.8 407.85,682.8 408.19,683.8 408.57,684.8 408.98,685.8 409.42,686.8 409.9,687.8 410.43,688.8 411.01,689.8 411.63,690.8 412.28,691.8 412.98,692.8 413.73,693.8 414.52,694.8 415.33,695.8 416.16,696.8 417.02,697.8 417.89,698.8 418.77,699.8 419.66,700.8 420.55,701.8 421.45,702.8 422.35,703.8 423.27,704.8 424.2,705.8 425.16,706.8 426.13,707.8 427.12,708.8 428.11,709.8 429.1,710.8 430.1,711.8 431.09,712.8 432.07,713.8 433.03,714.8 433.96,715.8 434.88,716.8 435.76,717.8 436.59,718.8 437.37,719.8 438.1,720.8 438.79,721.8 439.44,722.8 440.03,723.8 440.57,724.8 441.08,725.8 441.53,726.8 441.94,727.8 442.28,728.8 442.58,729.8 442.83,730.8 443.02,731.8 443.16,732.8 443.23,733.8 443.26,734.8 443.22,735.8 443.1,736.8 442.9,737.8 442.62,738.8 442.28,739.8 441.87,740.8 441.4,741.8 440.88,742.8 440.32,743.8 439.75,744.8 439.15,745.8 438.54,746.8 437.94,747.8 437.37,748.8 436.85,749.8 436.39,750.8 435.97,751.8 435.61,752.8 435.33,753.8 435.13,754.8 434.99,755.8 434.9,756.8 434.85,757.8 434.86,758.8 434.9,759.8 434.97,760.8 435.08,761.8 435.22,762.8 435.4,763.8 435.58,764.8 435.75,765.8 435.88,766.8 435.98,767.8 436.05,768.8 436.08,769.8 436.06,770.8 435.98,771.8 435.84,772.8 435.65,773.8 435.39,774.8 435.04,775.8 434.61,776.8 434.1,777.8 433.52,778.8 432.84,779.8 432.05,780.8 431.18,781.8 430.26,782.8 429.28,783.8 428.24,784.8 427.16,785.8 426.06,786.8 424.96,787.8 423.85,788.8 422.76,789.8 421.67,790.8 420.6,791.8 419.55,792.8 418.52,793.8 417.51,794.8 416.54,795.8 415.6,796.8 414.72,797.8 413.89,798.8 413.1,799.8 412.34,800.8 411.63,801.8 410.97,802.8 410.36,803.8 409.8,804.8 409.32,805.8 408.94,806.8 408.63,807.8 408.38,808.8 408.16,809.8 407.99,810.8 407.8,811.1 L403.4,811.1 403.21,810.8 403.04,809.8 402.82,808.8 402.57,807.8 402.26,806.8 401.88,805.8 401.4,804.8 400.84,803.8 400.23,802.8 399.57,801.8 398.86,800.8 398.1,799.8 397.31,798.8 396.48,797.8 395.6,796.8 394.66,795.8 393.69,794.8 392.68,793.8 391.65,792.8 390.6,791.8 389.53,790.8 388.44,789.8 387.35,788.8 386.24,787.8 385.14,786.8 384.04,785.8 382.96,784.8 381.92,783.8 380.94,782.8 380.02,781.8 379.15,780.8 378.36,779.8 377.68,778.8 377.1,777.8 376.59,776.8 376.16,775.8 375.81,774.8 375.55,773.8 375.36,772.8 375.22,771.8 375.14,770.8 375.12,769.8 375.15,768.8 375.22,767.8 375.32,766.8 375.45,765.8 375.62,764.8 375.8,763.8 375.98,762.8 376.12,761.8 376.23,760.8 376.3,759.8 376.34,758.8 376.35,757.8 376.3,756.8 376.21,755.8 376.07,754.8 375.87,753.8 375.59,752.8 375.23,751.8 374.81,750.8 374.35,749.8 373.83,748.8 373.26,747.8 372.66,746.8 372.05,745.8 371.45,744.8 370.88,743.8 370.32,742.8 369.8,741.8 369.33,740.8 368.92,739.8 368.58,738.8 368.3,737.8 368.1,736.8 367.98,735.8 367.94,734.8 367.97,733.8 368.04,732.8 368.18,731.8 368.37,730.8 368.62,729.8 368.92,728.8 369.26,727.8 369.67,726.8 370.12,725.8 370.63,724.8 371.17,723.8 371.76,722.8 372.41,721.8 373.1,720.8 373.83,719.8 374.61,718.8 375.44,717.8 376.32,716.8 377.24,715.8 378.17,714.8 379.13,713.8 380.11,712.8 381.1,711.8 382.1,710.8 383.09,709.8 384.08,708.8 385.07,707.8 386.04,706.8 387,705.8 387.93,704.8 388.85,703.8 389.75,702.8 390.65,701.8 391.54,700.8 392.43,699.8 393.31,698.8 394.18,697.8 395.04,696.8 395.87,695.8 396.68,694.8 397.47,693.8 398.22,692.8 398.92,691.8 399.57,690.8 400.19,689.8 400.77,688.8 401.3,687.8 401.78,686.8 402.22,685.8 402.63,684.8 403.01,683.8 403.35,682.8 403.65,681.8 403.9,680.8 404.08,679.8 Z" fill="#e1812c" stroke="#3c3c3c" stroke-width="0.75" stroke-linejoin="round"/><line x1="405.6" y1="709.2" x2="405.6" y2="781.9" stroke="#3c3c3c" stroke-width="1.1"/><rect x="403.95" y="726.3" width="3.3" height="47" fill="#3c3c3c"/><rect x="404.4" y="741.35" width="2.4" height="1.3" fill="#d9d9d9"/><rect x="266.5" y="667.5" width="186" height="154" fill="none" stroke="#666666" stroke-width="1"/><line x1="264.11" y1="683.5" x2="266.5" y2="683.5" stroke="#666666" stroke-width="1"/><text x="250.9" y="685.67" font-size="6.11" textLength="10.61" lengthAdjust="spacingAndGlyphs" stroke="#000" stroke-width="0.1">700</text><line x1="264.11" y1="702.5" x2="266.5" y2="702.5" stroke="#666666" stroke-width="1"/><text x="250.9" y="704.47" font-size="6.11" textLength="10.61" lengthAdjust="spacingAndGlyphs" stroke="#000" stroke-width="0.1">600</text><line x1="264.11" y1="720.5" x2="266.5" y2="720.5" stroke="#666666" stroke-width="1"/><text x="250.9" y="723.27" font-size="6.11" textLength="10.61" lengthAdjust="spacingAndGlyphs" stroke="#000" stroke-width="0.1">500</text><line x1="264.11" y1="739.5" x2="266.5" y2="739.5" stroke="#666666" stroke-width="1"/><text x="250.9" y="742.07" font-size="6.11" textLength="10.61" lengthAdjust="spacingAndGlyphs" stroke="#000" stroke-width="0.1">400</text><line x1="264.11" y1="758.5" x2="266.5" y2="758.5" stroke="#666666" stroke-width="1"/><text x="250.9" y="760.87" font-size="6.11" textLength="10.61" lengthAdjust="spacingAndGlyphs" stroke="#000" stroke-width="0.1">300</text><line x1="264.11" y1="777.5" x2="266.5" y2="777.5" stroke="#666666" stroke-width="1"/><text x="250.9" y="779.67" font-size="6.11" textLength="10.61" lengthAdjust="spacingAndGlyphs" stroke="#000" stroke-width="0.1">200</text><line x1="264.11" y1="796.5" x2="266.5" y2="796.5" stroke="#666666" stroke-width="1"/><text x="250.9" y="798.47" font-size="6.11" textLength="10.61" lengthAdjust="spacingAndGlyphs" stroke="#000" stroke-width="0.1">100</text><line x1="264.11" y1="814.5" x2="266.5" y2="814.5" stroke="#666666" stroke-width="1"/><text x="257.97" y="817.27" font-size="6.11" textLength="3.54" lengthAdjust="spacingAndGlyphs" stroke="#000" stroke-width="0.1">0</text><line x1="312.5" y1="821.5" x2="312.5" y2="823.89" stroke="#666666" stroke-width="1"/><text x="303.89" y="830.3" font-size="6.11" textLength="17.41" lengthAdjust="spacingAndGlyphs" stroke="#000" stroke-width="0.1">Actual</text><line x1="405.5" y1="821.5" x2="405.5" y2="823.89" stroke="#666666" stroke-width="1"/><text x="388.14" y="830.3" font-size="6.11" textLength="34.91" lengthAdjust="spacingAndGlyphs" stroke="#000" stroke-width="0.1">RF Predicted</text><text x="265.32" y="663.9" font-size="7.34" textLength="187.96" lengthAdjust="spacingAndGlyphs" stroke="#000" stroke-width="0.1">Distribution of Actual and Predicted Values for MW (RFA)</text><text transform="translate(248.4,745.3) rotate(-90)" x="-5.14" y="0" font-size="6.11" textLength="10.29" lengthAdjust="spacingAndGlyphs" stroke="#000" stroke-width="0.1">MW</text><text x="354.8" y="849.8" text-anchor="middle" font-family="Liberation Serif, serif" font-size="20.5" fill="#000" stroke="#fff" stroke-width="0.15">(j)</text></g>
</svg></body></html>
